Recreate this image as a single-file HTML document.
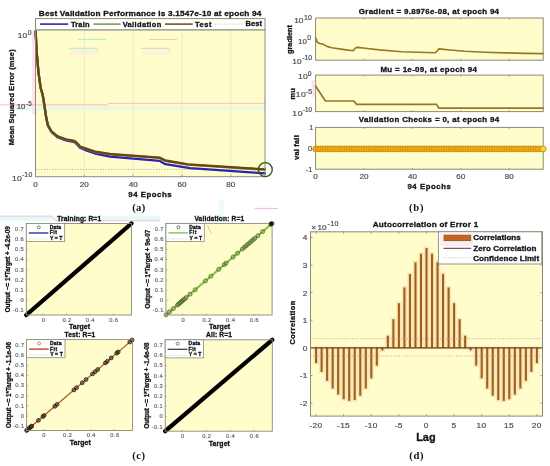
<!DOCTYPE html>
<html><head><meta charset="utf-8"><style>
html,body{margin:0;padding:0;background:#fff;overflow:hidden;}
svg{display:block;}
</style></head><body>
<svg width="550" height="466" viewBox="0 0 550 466">
<defs><filter id="bl" x="0" y="0" width="1" height="1" color-interpolation-filters="sRGB"><feGaussianBlur stdDeviation="0.35"/></filter></defs>
<g filter="url(#bl)">
<rect x="0" y="0" width="550" height="466" fill="#ffffff"/>
<rect x="35.50" y="29.80" width="229.50" height="146.90" fill="#FFFDCC" stroke="none" stroke-width="1" />
<line x1="84.33" y1="29.80" x2="84.33" y2="176.70" stroke="#E8E4BC" stroke-width="0.8" />
<line x1="133.16" y1="29.80" x2="133.16" y2="176.70" stroke="#E8E4BC" stroke-width="0.8" />
<line x1="181.99" y1="29.80" x2="181.99" y2="176.70" stroke="#E8E4BC" stroke-width="0.8" />
<line x1="230.82" y1="29.80" x2="230.82" y2="176.70" stroke="#E8E4BC" stroke-width="0.8" />
<rect x="12.00" y="105.60" width="253.00" height="5.00" fill="#DDF6E6" stroke="none" stroke-width="1" opacity="0.6"/>
<rect x="32.20" y="30.50" width="2.80" height="84.00" fill="#FCDCEC" stroke="none" stroke-width="1" opacity="0.8"/>
<polyline points="0.00,104.80 107.00,104.80 109.00,103.30 265.00,103.30" fill="none" stroke="#F4A0C0" stroke-width="0.9" stroke-linejoin="round" stroke-linecap="round" opacity="0.8"/>
<line x1="35.50" y1="169.40" x2="265.00" y2="169.40" stroke="#9C9C8C" stroke-width="0.8" stroke-dasharray="1.2,1.6"/>
<line x1="77.80" y1="39.40" x2="105.80" y2="39.40" stroke="#7FE6D6" stroke-width="0.9" opacity="0.75"/>
<line x1="68.90" y1="48.30" x2="97.70" y2="48.30" stroke="#7FE6D6" stroke-width="0.9" opacity="0.75"/>
<line x1="149.00" y1="39.40" x2="177.00" y2="39.40" stroke="#F4A0C4" stroke-width="0.9" opacity="0.75"/>
<line x1="140.90" y1="48.30" x2="169.40" y2="48.30" stroke="#F4A0C4" stroke-width="0.9" opacity="0.75"/>
<rect x="70.00" y="49.50" width="30.00" height="5.00" fill="#FBE8D8" stroke="none" stroke-width="1" opacity="0.6"/>
<rect x="143.00" y="49.50" width="28.00" height="5.00" fill="#E8F8D8" stroke="none" stroke-width="1" opacity="0.7"/>
<polyline points="35.60,31.40 36.80,53.70 38.50,72.60 40.70,88.00 42.70,95.00 44.40,105.30 46.20,117.60 47.90,125.60 51.30,131.80 57.30,137.20 65.90,140.40 74.50,142.20 77.00,144.30 80.00,147.80 84.80,149.80 95.10,153.50 110.00,156.60 159.50,160.80 165.30,164.20 190.00,168.10 265.00,173.30" fill="none" stroke="#3020B4" stroke-width="2.3" stroke-linejoin="round" stroke-linecap="round" />
<polyline points="35.60,31.70 36.80,54.00 38.50,72.90 40.70,88.30 42.70,95.30 44.40,105.60 46.20,117.60 47.90,125.30 51.30,131.30 57.30,136.50 65.90,139.60 74.50,141.30 77.00,143.30 80.00,146.80 84.80,148.50 95.10,152.00 110.00,154.30 159.50,157.90 165.30,160.80 188.00,164.70 265.00,169.70" fill="none" stroke="#6E9A3C" stroke-width="2.3" stroke-linejoin="round" stroke-linecap="round" />
<polyline points="35.60,31.40 36.80,53.70 38.50,72.60 40.70,88.00 42.70,95.00 44.40,105.30 46.20,117.30 47.90,125.00 51.30,131.00 57.30,136.20 65.90,139.30 74.50,141.00 77.00,143.00 80.00,146.50 84.80,148.20 95.10,151.70 110.00,154.00 159.50,157.60 165.30,160.50 188.00,164.40 265.00,169.40" fill="none" stroke="#6A4614" stroke-width="2.3" stroke-linejoin="round" stroke-linecap="round" />
<rect x="35.50" y="29.80" width="229.50" height="146.90" fill="none" stroke="#8A8A78" stroke-width="1" />
<line x1="35.50" y1="176.70" x2="35.50" y2="174.70" stroke="#8A8A78" stroke-width="0.8" />
<text transform="translate(33.23,186.70) scale(1.080,1)" x="0" y="0" font-size="7.5" fill="#4A4A4A" stroke="#4A4A4A" stroke-width="0.18" font-family="Liberation Sans, sans-serif">0</text>
<line x1="84.33" y1="176.70" x2="84.33" y2="174.70" stroke="#8A8A78" stroke-width="0.8" />
<text transform="translate(79.72,186.70) scale(1.080,1)" x="0" y="0" font-size="7.5" textLength="8.44" lengthAdjust="spacing" fill="#4A4A4A" stroke="#4A4A4A" stroke-width="0.18" font-family="Liberation Sans, sans-serif">20</text>
<line x1="133.16" y1="176.70" x2="133.16" y2="174.70" stroke="#8A8A78" stroke-width="0.8" />
<text transform="translate(128.67,186.70) scale(1.080,1)" x="0" y="0" font-size="7.5" textLength="8.44" lengthAdjust="spacing" fill="#4A4A4A" stroke="#4A4A4A" stroke-width="0.18" font-family="Liberation Sans, sans-serif">40</text>
<line x1="181.99" y1="176.70" x2="181.99" y2="174.70" stroke="#8A8A78" stroke-width="0.8" />
<text transform="translate(177.38,186.70) scale(1.080,1)" x="0" y="0" font-size="7.5" textLength="8.44" lengthAdjust="spacing" fill="#4A4A4A" stroke="#4A4A4A" stroke-width="0.18" font-family="Liberation Sans, sans-serif">60</text>
<line x1="230.82" y1="176.70" x2="230.82" y2="174.70" stroke="#8A8A78" stroke-width="0.8" />
<text transform="translate(226.23,186.70) scale(1.080,1)" x="0" y="0" font-size="7.5" textLength="8.44" lengthAdjust="spacing" fill="#4A4A4A" stroke="#4A4A4A" stroke-width="0.18" font-family="Liberation Sans, sans-serif">80</text>
<circle cx="265.3" cy="169.6" r="7" fill="none" stroke="#2F5A1E" stroke-width="1.4"/>
<text transform="translate(17.87,37.80) scale(1.063,1)" x="0" y="0" font-size="7.9" textLength="8.79" lengthAdjust="spacing" fill="#4A4A4A" stroke="#4A4A4A" stroke-width="0.18" font-family="Liberation Sans, sans-serif">10</text>
<text transform="translate(27.72,34.50) scale(1.100,1)" x="0" y="0" font-size="6.3" fill="#4A4A4A" stroke="#4A4A4A" stroke-width="0.18" font-family="Liberation Sans, sans-serif">0</text>
<text transform="translate(16.81,109.00) scale(1.000,1)" x="0" y="0" font-size="7.9" textLength="8.49" lengthAdjust="spacing" fill="#4A4A4A" stroke="#4A4A4A" stroke-width="0.18" font-family="Liberation Sans, sans-serif">10</text>
<text transform="translate(26.11,105.50) scale(1.006,1)" x="0" y="0" font-size="6.3" textLength="5.60" lengthAdjust="spacing" fill="#4A4A4A" stroke="#4A4A4A" stroke-width="0.18" font-family="Liberation Sans, sans-serif">-5</text>
<text transform="translate(11.95,180.50) scale(1.100,1)" x="0" y="0" font-size="7.9" textLength="8.89" lengthAdjust="spacing" fill="#4A4A4A" stroke="#4A4A4A" stroke-width="0.18" font-family="Liberation Sans, sans-serif">10</text>
<text transform="translate(21.89,177.00) scale(1.100,1)" x="0" y="0" font-size="6.3" textLength="9.42" lengthAdjust="spacing" fill="#4A4A4A" stroke="#4A4A4A" stroke-width="0.18" font-family="Liberation Sans, sans-serif">-10</text>
<text transform="translate(14.30,145.19) rotate(-90)" x="0" y="0" font-size="7.5" font-weight="bold" textLength="95.83" lengthAdjust="spacing" fill="#141414" stroke="#141414" stroke-width="0.3" font-family="Liberation Sans, sans-serif">Mean Squared Error  (mse)</text>
<text transform="translate(128.33,196.70) scale(1.100,1)" x="0" y="0" font-size="7.1" font-weight="bold" textLength="39.27" lengthAdjust="spacing" fill="#141414" stroke="#141414" stroke-width="0.3" font-family="Liberation Sans, sans-serif">94 Epochs</text>
<text transform="translate(132.22,211.00) scale(1.000,1)" x="0" y="0" font-size="10.6" font-weight="bold" textLength="13.01" lengthAdjust="spacing" fill="#141414" font-family="Liberation Serif, serif">(a)</text>
<rect x="35.50" y="18.60" width="229.50" height="11.20" fill="#FFFFFF" stroke="#8A8A78" stroke-width="1" />
<line x1="40.00" y1="24.10" x2="68.20" y2="24.10" stroke="#3422B0" stroke-width="1.6" />
<line x1="93.40" y1="24.10" x2="120.60" y2="24.10" stroke="#7CA050" stroke-width="1.6" />
<line x1="165.00" y1="24.10" x2="192.70" y2="24.10" stroke="#7A5020" stroke-width="1.6" />
<line x1="214.90" y1="24.10" x2="242.70" y2="24.10" stroke="#B8B8B0" stroke-width="0.8" stroke-dasharray="1,1.4"/>
<text transform="translate(70.93,26.50) scale(1.100,1)" x="0" y="0" font-size="6.8" font-weight="bold" textLength="16.84" lengthAdjust="spacing" fill="#141414" stroke="#141414" stroke-width="0.3" font-family="Liberation Sans, sans-serif">Train</text>
<text transform="translate(122.66,26.50) scale(1.100,1)" x="0" y="0" font-size="6.8" font-weight="bold" textLength="35.10" lengthAdjust="spacing" fill="#141414" stroke="#141414" stroke-width="0.3" font-family="Liberation Sans, sans-serif">Validation</text>
<text transform="translate(194.93,26.50) scale(1.100,1)" x="0" y="0" font-size="6.8" font-weight="bold" textLength="14.97" lengthAdjust="spacing" fill="#141414" stroke="#141414" stroke-width="0.3" font-family="Liberation Sans, sans-serif">Test</text>
<text transform="translate(245.51,26.40) scale(1.100,1)" x="0" y="0" font-size="6.8" font-weight="bold" textLength="14.89" lengthAdjust="spacing" fill="#141414" stroke="#141414" stroke-width="0.3" font-family="Liberation Sans, sans-serif">Best</text>
<text transform="translate(38.76,15.70) scale(1.100,1)" x="0" y="0" font-size="7.5" font-weight="bold" textLength="202.34" lengthAdjust="spacing" fill="#141414" stroke="#141414" stroke-width="0.3" font-family="Liberation Sans, sans-serif">Best Validation Performance is 3.1547e-10 at epoch 94</text>
<rect x="315.60" y="18.00" width="227.60" height="42.20" fill="#FFFDCC" stroke="#8A8A78" stroke-width="1" />
<polyline points="315.60,37.90 316.50,39.50 317.00,42.30 320.00,43.60 322.00,43.70 327.50,46.60 331.80,47.70 342.70,49.40 353.10,50.80 355.80,47.70 358.00,47.40 365.00,48.20 379.50,49.90 401.40,51.70 435.50,52.80 438.90,48.90 450.00,50.00 465.00,51.20 485.00,52.20 505.00,52.90 525.00,53.40 543.00,53.60" fill="none" stroke="#987622" stroke-width="1.6" stroke-linejoin="round" stroke-linecap="round" />
<line x1="364.03" y1="60.20" x2="364.03" y2="58.70" stroke="#8A8A78" stroke-width="0.8" />
<line x1="364.03" y1="18.00" x2="364.03" y2="19.50" stroke="#8A8A78" stroke-width="0.8" />
<line x1="412.45" y1="60.20" x2="412.45" y2="58.70" stroke="#8A8A78" stroke-width="0.8" />
<line x1="412.45" y1="18.00" x2="412.45" y2="19.50" stroke="#8A8A78" stroke-width="0.8" />
<line x1="460.88" y1="60.20" x2="460.88" y2="58.70" stroke="#8A8A78" stroke-width="0.8" />
<line x1="460.88" y1="18.00" x2="460.88" y2="19.50" stroke="#8A8A78" stroke-width="0.8" />
<line x1="509.30" y1="60.20" x2="509.30" y2="58.70" stroke="#8A8A78" stroke-width="0.8" />
<line x1="509.30" y1="18.00" x2="509.30" y2="19.50" stroke="#8A8A78" stroke-width="0.8" />
<text transform="translate(358.78,14.40) scale(1.100,1)" x="0" y="0" font-size="7.2" font-weight="bold" textLength="127.50" lengthAdjust="spacing" fill="#141414" stroke="#141414" stroke-width="0.3" font-family="Liberation Sans, sans-serif">Gradient = 9.8976e-08, at epoch 94</text>
<text transform="translate(294.17,22.90) scale(1.063,1)" x="0" y="0" font-size="7.9" textLength="8.79" lengthAdjust="spacing" fill="#4A4A4A" stroke="#4A4A4A" stroke-width="0.18" font-family="Liberation Sans, sans-serif">10</text>
<text transform="translate(303.88,19.60) scale(1.100,1)" x="0" y="0" font-size="6.3" textLength="7.16" lengthAdjust="spacing" fill="#4A4A4A" stroke="#4A4A4A" stroke-width="0.18" font-family="Liberation Sans, sans-serif">10</text>
<text transform="translate(298.00,43.70) scale(1.013,1)" x="0" y="0" font-size="7.9" textLength="8.79" lengthAdjust="spacing" fill="#4A4A4A" stroke="#4A4A4A" stroke-width="0.18" font-family="Liberation Sans, sans-serif">10</text>
<text transform="translate(307.22,40.20) scale(1.100,1)" x="0" y="0" font-size="6.3" fill="#4A4A4A" stroke="#4A4A4A" stroke-width="0.18" font-family="Liberation Sans, sans-serif">0</text>
<text transform="translate(292.28,64.00) scale(1.051,1)" x="0" y="0" font-size="7.9" textLength="8.79" lengthAdjust="spacing" fill="#4A4A4A" stroke="#4A4A4A" stroke-width="0.18" font-family="Liberation Sans, sans-serif">10</text>
<text transform="translate(302.19,60.40) scale(1.093,1)" x="0" y="0" font-size="6.3" textLength="9.11" lengthAdjust="spacing" fill="#4A4A4A" stroke="#4A4A4A" stroke-width="0.18" font-family="Liberation Sans, sans-serif">-10</text>
<text transform="translate(292.40,53.99) rotate(-90)" x="0" y="0" font-size="7.2" font-weight="bold" textLength="28.99" lengthAdjust="spacing" fill="#141414" stroke="#141414" stroke-width="0.3" font-family="Liberation Sans, sans-serif">gradient</text>
<rect x="315.60" y="75.10" width="227.60" height="36.50" fill="#FFFDCC" stroke="#8A8A78" stroke-width="1" />
<rect x="311.60" y="80.00" width="3.60" height="17.00" fill="#FBDDEE" stroke="none" stroke-width="1" opacity="0.8"/>
<polyline points="315.60,86.00 325.40,101.00 353.80,101.00 356.60,104.40 436.60,104.40 439.00,108.20 543.00,108.20" fill="none" stroke="#987622" stroke-width="1.7" stroke-linejoin="round" stroke-linecap="round" />
<line x1="364.03" y1="111.60" x2="364.03" y2="110.10" stroke="#8A8A78" stroke-width="0.8" />
<line x1="364.03" y1="75.10" x2="364.03" y2="76.60" stroke="#8A8A78" stroke-width="0.8" />
<line x1="412.45" y1="111.60" x2="412.45" y2="110.10" stroke="#8A8A78" stroke-width="0.8" />
<line x1="412.45" y1="75.10" x2="412.45" y2="76.60" stroke="#8A8A78" stroke-width="0.8" />
<line x1="460.88" y1="111.60" x2="460.88" y2="110.10" stroke="#8A8A78" stroke-width="0.8" />
<line x1="460.88" y1="75.10" x2="460.88" y2="76.60" stroke="#8A8A78" stroke-width="0.8" />
<line x1="509.30" y1="111.60" x2="509.30" y2="110.10" stroke="#8A8A78" stroke-width="0.8" />
<line x1="509.30" y1="75.10" x2="509.30" y2="76.60" stroke="#8A8A78" stroke-width="0.8" />
<text transform="translate(380.39,71.60) scale(1.100,1)" x="0" y="0" font-size="7.2" font-weight="bold" textLength="87.68" lengthAdjust="spacing" fill="#141414" stroke="#141414" stroke-width="0.3" font-family="Liberation Sans, sans-serif">Mu = 1e-09, at epoch 94</text>
<text transform="translate(298.05,79.10) scale(1.100,1)" x="0" y="0" font-size="7.9" textLength="8.98" lengthAdjust="spacing" fill="#4A4A4A" stroke="#4A4A4A" stroke-width="0.18" font-family="Liberation Sans, sans-serif">10</text>
<text transform="translate(307.83,75.90) scale(1.058,1)" x="0" y="0" font-size="6.3" fill="#4A4A4A" stroke="#4A4A4A" stroke-width="0.18" font-family="Liberation Sans, sans-serif">0</text>
<text transform="translate(295.65,97.40) scale(1.100,1)" x="0" y="0" font-size="7.9" textLength="9.16" lengthAdjust="spacing" fill="#4A4A4A" stroke="#4A4A4A" stroke-width="0.18" font-family="Liberation Sans, sans-serif">10</text>
<text transform="translate(305.69,94.20) scale(1.100,1)" x="0" y="0" font-size="6.3" textLength="5.89" lengthAdjust="spacing" fill="#4A4A4A" stroke="#4A4A4A" stroke-width="0.18" font-family="Liberation Sans, sans-serif">-5</text>
<text transform="translate(292.35,115.60) scale(1.100,1)" x="0" y="0" font-size="7.9" textLength="9.25" lengthAdjust="spacing" fill="#4A4A4A" stroke="#4A4A4A" stroke-width="0.18" font-family="Liberation Sans, sans-serif">10</text>
<text transform="translate(303.02,112.40) scale(1.000,1)" x="0" y="0" font-size="6.3" textLength="9.11" lengthAdjust="spacing" fill="#4A4A4A" stroke="#4A4A4A" stroke-width="0.18" font-family="Liberation Sans, sans-serif">-10</text>
<text transform="translate(295.00,99.48) rotate(-90)" x="0" y="0" font-size="7.4" font-weight="bold" textLength="11.26" lengthAdjust="spacing" fill="#141414" stroke="#141414" stroke-width="0.3" font-family="Liberation Sans, sans-serif">mu</text>
<rect x="315.60" y="127.40" width="227.60" height="41.80" fill="#FFFDCC" stroke="#8A8A78" stroke-width="1" />
<line x1="364.03" y1="169.20" x2="364.03" y2="167.70" stroke="#8A8A78" stroke-width="0.8" />
<line x1="364.03" y1="127.40" x2="364.03" y2="128.90" stroke="#8A8A78" stroke-width="0.8" />
<line x1="412.45" y1="169.20" x2="412.45" y2="167.70" stroke="#8A8A78" stroke-width="0.8" />
<line x1="412.45" y1="127.40" x2="412.45" y2="128.90" stroke="#8A8A78" stroke-width="0.8" />
<line x1="460.88" y1="169.20" x2="460.88" y2="167.70" stroke="#8A8A78" stroke-width="0.8" />
<line x1="460.88" y1="127.40" x2="460.88" y2="128.90" stroke="#8A8A78" stroke-width="0.8" />
<line x1="509.30" y1="169.20" x2="509.30" y2="167.70" stroke="#8A8A78" stroke-width="0.8" />
<line x1="509.30" y1="127.40" x2="509.30" y2="128.90" stroke="#8A8A78" stroke-width="0.8" />
<circle cx="315.60" cy="148.9" r="2.9" fill="#F0B41C" stroke="#CC840E" stroke-width="0.8"/>
<circle cx="318.02" cy="148.9" r="2.9" fill="#F0B41C" stroke="#CC840E" stroke-width="0.8"/>
<circle cx="320.44" cy="148.9" r="2.9" fill="#F0B41C" stroke="#CC840E" stroke-width="0.8"/>
<circle cx="322.86" cy="148.9" r="2.9" fill="#F0B41C" stroke="#CC840E" stroke-width="0.8"/>
<circle cx="325.29" cy="148.9" r="2.9" fill="#F0B41C" stroke="#CC840E" stroke-width="0.8"/>
<circle cx="327.71" cy="148.9" r="2.9" fill="#F0B41C" stroke="#CC840E" stroke-width="0.8"/>
<circle cx="330.13" cy="148.9" r="2.9" fill="#F0B41C" stroke="#CC840E" stroke-width="0.8"/>
<circle cx="332.55" cy="148.9" r="2.9" fill="#F0B41C" stroke="#CC840E" stroke-width="0.8"/>
<circle cx="334.97" cy="148.9" r="2.9" fill="#F0B41C" stroke="#CC840E" stroke-width="0.8"/>
<circle cx="337.39" cy="148.9" r="2.9" fill="#F0B41C" stroke="#CC840E" stroke-width="0.8"/>
<circle cx="339.81" cy="148.9" r="2.9" fill="#F0B41C" stroke="#CC840E" stroke-width="0.8"/>
<circle cx="342.23" cy="148.9" r="2.9" fill="#F0B41C" stroke="#CC840E" stroke-width="0.8"/>
<circle cx="344.66" cy="148.9" r="2.9" fill="#F0B41C" stroke="#CC840E" stroke-width="0.8"/>
<circle cx="347.08" cy="148.9" r="2.9" fill="#F0B41C" stroke="#CC840E" stroke-width="0.8"/>
<circle cx="349.50" cy="148.9" r="2.9" fill="#F0B41C" stroke="#CC840E" stroke-width="0.8"/>
<circle cx="351.92" cy="148.9" r="2.9" fill="#F0B41C" stroke="#CC840E" stroke-width="0.8"/>
<circle cx="354.34" cy="148.9" r="2.9" fill="#F0B41C" stroke="#CC840E" stroke-width="0.8"/>
<circle cx="356.76" cy="148.9" r="2.9" fill="#F0B41C" stroke="#CC840E" stroke-width="0.8"/>
<circle cx="359.18" cy="148.9" r="2.9" fill="#F0B41C" stroke="#CC840E" stroke-width="0.8"/>
<circle cx="361.60" cy="148.9" r="2.9" fill="#F0B41C" stroke="#CC840E" stroke-width="0.8"/>
<circle cx="364.03" cy="148.9" r="2.9" fill="#F0B41C" stroke="#CC840E" stroke-width="0.8"/>
<circle cx="366.45" cy="148.9" r="2.9" fill="#F0B41C" stroke="#CC840E" stroke-width="0.8"/>
<circle cx="368.87" cy="148.9" r="2.9" fill="#F0B41C" stroke="#CC840E" stroke-width="0.8"/>
<circle cx="371.29" cy="148.9" r="2.9" fill="#F0B41C" stroke="#CC840E" stroke-width="0.8"/>
<circle cx="373.71" cy="148.9" r="2.9" fill="#F0B41C" stroke="#CC840E" stroke-width="0.8"/>
<circle cx="376.13" cy="148.9" r="2.9" fill="#F0B41C" stroke="#CC840E" stroke-width="0.8"/>
<circle cx="378.55" cy="148.9" r="2.9" fill="#F0B41C" stroke="#CC840E" stroke-width="0.8"/>
<circle cx="380.97" cy="148.9" r="2.9" fill="#F0B41C" stroke="#CC840E" stroke-width="0.8"/>
<circle cx="383.40" cy="148.9" r="2.9" fill="#F0B41C" stroke="#CC840E" stroke-width="0.8"/>
<circle cx="385.82" cy="148.9" r="2.9" fill="#F0B41C" stroke="#CC840E" stroke-width="0.8"/>
<circle cx="388.24" cy="148.9" r="2.9" fill="#F0B41C" stroke="#CC840E" stroke-width="0.8"/>
<circle cx="390.66" cy="148.9" r="2.9" fill="#F0B41C" stroke="#CC840E" stroke-width="0.8"/>
<circle cx="393.08" cy="148.9" r="2.9" fill="#F0B41C" stroke="#CC840E" stroke-width="0.8"/>
<circle cx="395.50" cy="148.9" r="2.9" fill="#F0B41C" stroke="#CC840E" stroke-width="0.8"/>
<circle cx="397.92" cy="148.9" r="2.9" fill="#F0B41C" stroke="#CC840E" stroke-width="0.8"/>
<circle cx="400.34" cy="148.9" r="2.9" fill="#F0B41C" stroke="#CC840E" stroke-width="0.8"/>
<circle cx="402.77" cy="148.9" r="2.9" fill="#F0B41C" stroke="#CC840E" stroke-width="0.8"/>
<circle cx="405.19" cy="148.9" r="2.9" fill="#F0B41C" stroke="#CC840E" stroke-width="0.8"/>
<circle cx="407.61" cy="148.9" r="2.9" fill="#F0B41C" stroke="#CC840E" stroke-width="0.8"/>
<circle cx="410.03" cy="148.9" r="2.9" fill="#F0B41C" stroke="#CC840E" stroke-width="0.8"/>
<circle cx="412.45" cy="148.9" r="2.9" fill="#F0B41C" stroke="#CC840E" stroke-width="0.8"/>
<circle cx="414.87" cy="148.9" r="2.9" fill="#F0B41C" stroke="#CC840E" stroke-width="0.8"/>
<circle cx="417.29" cy="148.9" r="2.9" fill="#F0B41C" stroke="#CC840E" stroke-width="0.8"/>
<circle cx="419.71" cy="148.9" r="2.9" fill="#F0B41C" stroke="#CC840E" stroke-width="0.8"/>
<circle cx="422.14" cy="148.9" r="2.9" fill="#F0B41C" stroke="#CC840E" stroke-width="0.8"/>
<circle cx="424.56" cy="148.9" r="2.9" fill="#F0B41C" stroke="#CC840E" stroke-width="0.8"/>
<circle cx="426.98" cy="148.9" r="2.9" fill="#F0B41C" stroke="#CC840E" stroke-width="0.8"/>
<circle cx="429.40" cy="148.9" r="2.9" fill="#F0B41C" stroke="#CC840E" stroke-width="0.8"/>
<circle cx="431.82" cy="148.9" r="2.9" fill="#F0B41C" stroke="#CC840E" stroke-width="0.8"/>
<circle cx="434.24" cy="148.9" r="2.9" fill="#F0B41C" stroke="#CC840E" stroke-width="0.8"/>
<circle cx="436.66" cy="148.9" r="2.9" fill="#F0B41C" stroke="#CC840E" stroke-width="0.8"/>
<circle cx="439.09" cy="148.9" r="2.9" fill="#F0B41C" stroke="#CC840E" stroke-width="0.8"/>
<circle cx="441.51" cy="148.9" r="2.9" fill="#F0B41C" stroke="#CC840E" stroke-width="0.8"/>
<circle cx="443.93" cy="148.9" r="2.9" fill="#F0B41C" stroke="#CC840E" stroke-width="0.8"/>
<circle cx="446.35" cy="148.9" r="2.9" fill="#F0B41C" stroke="#CC840E" stroke-width="0.8"/>
<circle cx="448.77" cy="148.9" r="2.9" fill="#F0B41C" stroke="#CC840E" stroke-width="0.8"/>
<circle cx="451.19" cy="148.9" r="2.9" fill="#F0B41C" stroke="#CC840E" stroke-width="0.8"/>
<circle cx="453.61" cy="148.9" r="2.9" fill="#F0B41C" stroke="#CC840E" stroke-width="0.8"/>
<circle cx="456.03" cy="148.9" r="2.9" fill="#F0B41C" stroke="#CC840E" stroke-width="0.8"/>
<circle cx="458.46" cy="148.9" r="2.9" fill="#F0B41C" stroke="#CC840E" stroke-width="0.8"/>
<circle cx="460.88" cy="148.9" r="2.9" fill="#F0B41C" stroke="#CC840E" stroke-width="0.8"/>
<circle cx="463.30" cy="148.9" r="2.9" fill="#F0B41C" stroke="#CC840E" stroke-width="0.8"/>
<circle cx="465.72" cy="148.9" r="2.9" fill="#F0B41C" stroke="#CC840E" stroke-width="0.8"/>
<circle cx="468.14" cy="148.9" r="2.9" fill="#F0B41C" stroke="#CC840E" stroke-width="0.8"/>
<circle cx="470.56" cy="148.9" r="2.9" fill="#F0B41C" stroke="#CC840E" stroke-width="0.8"/>
<circle cx="472.98" cy="148.9" r="2.9" fill="#F0B41C" stroke="#CC840E" stroke-width="0.8"/>
<circle cx="475.40" cy="148.9" r="2.9" fill="#F0B41C" stroke="#CC840E" stroke-width="0.8"/>
<circle cx="477.83" cy="148.9" r="2.9" fill="#F0B41C" stroke="#CC840E" stroke-width="0.8"/>
<circle cx="480.25" cy="148.9" r="2.9" fill="#F0B41C" stroke="#CC840E" stroke-width="0.8"/>
<circle cx="482.67" cy="148.9" r="2.9" fill="#F0B41C" stroke="#CC840E" stroke-width="0.8"/>
<circle cx="485.09" cy="148.9" r="2.9" fill="#F0B41C" stroke="#CC840E" stroke-width="0.8"/>
<circle cx="487.51" cy="148.9" r="2.9" fill="#F0B41C" stroke="#CC840E" stroke-width="0.8"/>
<circle cx="489.93" cy="148.9" r="2.9" fill="#F0B41C" stroke="#CC840E" stroke-width="0.8"/>
<circle cx="492.35" cy="148.9" r="2.9" fill="#F0B41C" stroke="#CC840E" stroke-width="0.8"/>
<circle cx="494.77" cy="148.9" r="2.9" fill="#F0B41C" stroke="#CC840E" stroke-width="0.8"/>
<circle cx="497.20" cy="148.9" r="2.9" fill="#F0B41C" stroke="#CC840E" stroke-width="0.8"/>
<circle cx="499.62" cy="148.9" r="2.9" fill="#F0B41C" stroke="#CC840E" stroke-width="0.8"/>
<circle cx="502.04" cy="148.9" r="2.9" fill="#F0B41C" stroke="#CC840E" stroke-width="0.8"/>
<circle cx="504.46" cy="148.9" r="2.9" fill="#F0B41C" stroke="#CC840E" stroke-width="0.8"/>
<circle cx="506.88" cy="148.9" r="2.9" fill="#F0B41C" stroke="#CC840E" stroke-width="0.8"/>
<circle cx="509.30" cy="148.9" r="2.9" fill="#F0B41C" stroke="#CC840E" stroke-width="0.8"/>
<circle cx="511.72" cy="148.9" r="2.9" fill="#F0B41C" stroke="#CC840E" stroke-width="0.8"/>
<circle cx="514.14" cy="148.9" r="2.9" fill="#F0B41C" stroke="#CC840E" stroke-width="0.8"/>
<circle cx="516.57" cy="148.9" r="2.9" fill="#F0B41C" stroke="#CC840E" stroke-width="0.8"/>
<circle cx="518.99" cy="148.9" r="2.9" fill="#F0B41C" stroke="#CC840E" stroke-width="0.8"/>
<circle cx="521.41" cy="148.9" r="2.9" fill="#F0B41C" stroke="#CC840E" stroke-width="0.8"/>
<circle cx="523.83" cy="148.9" r="2.9" fill="#F0B41C" stroke="#CC840E" stroke-width="0.8"/>
<circle cx="526.25" cy="148.9" r="2.9" fill="#F0B41C" stroke="#CC840E" stroke-width="0.8"/>
<circle cx="528.67" cy="148.9" r="2.9" fill="#F0B41C" stroke="#CC840E" stroke-width="0.8"/>
<circle cx="531.09" cy="148.9" r="2.9" fill="#F0B41C" stroke="#CC840E" stroke-width="0.8"/>
<circle cx="533.51" cy="148.9" r="2.9" fill="#F0B41C" stroke="#CC840E" stroke-width="0.8"/>
<circle cx="535.94" cy="148.9" r="2.9" fill="#F0B41C" stroke="#CC840E" stroke-width="0.8"/>
<circle cx="538.36" cy="148.9" r="2.9" fill="#F0B41C" stroke="#CC840E" stroke-width="0.8"/>
<circle cx="540.78" cy="148.9" r="2.9" fill="#F0B41C" stroke="#CC840E" stroke-width="0.8"/>
<circle cx="543.20" cy="148.9" r="2.9" fill="#E8E030" stroke="#CC840E" stroke-width="0.8"/>
<text transform="translate(358.86,121.90) scale(1.100,1)" x="0" y="0" font-size="7.2" font-weight="bold" textLength="127.54" lengthAdjust="spacing" fill="#141414" stroke="#141414" stroke-width="0.3" font-family="Liberation Sans, sans-serif">Validation Checks = 0, at epoch 94</text>
<text transform="translate(309.28,129.80) scale(1.000,1)" x="0" y="0" font-size="7.0" fill="#4A4A4A" stroke="#4A4A4A" stroke-width="0.18" font-family="Liberation Sans, sans-serif">1</text>
<text transform="translate(307.99,150.80) scale(1.100,1)" x="0" y="0" font-size="7.0" fill="#4A4A4A" stroke="#4A4A4A" stroke-width="0.18" font-family="Liberation Sans, sans-serif">0</text>
<text transform="translate(305.66,171.90) scale(1.071,1)" x="0" y="0" font-size="7.0" textLength="6.22" lengthAdjust="spacing" fill="#4A4A4A" stroke="#4A4A4A" stroke-width="0.18" font-family="Liberation Sans, sans-serif">-1</text>
<text transform="translate(299.00,159.84) rotate(-90)" x="0" y="0" font-size="7.3" font-weight="bold" textLength="24.53" lengthAdjust="spacing" fill="#141414" stroke="#141414" stroke-width="0.3" font-family="Liberation Sans, sans-serif">val fail</text>
<text transform="translate(313.33,179.30) scale(1.080,1)" x="0" y="0" font-size="7.5" fill="#4A4A4A" stroke="#4A4A4A" stroke-width="0.18" font-family="Liberation Sans, sans-serif">0</text>
<text transform="translate(359.42,179.30) scale(1.080,1)" x="0" y="0" font-size="7.5" textLength="8.44" lengthAdjust="spacing" fill="#4A4A4A" stroke="#4A4A4A" stroke-width="0.18" font-family="Liberation Sans, sans-serif">20</text>
<text transform="translate(407.96,179.30) scale(1.080,1)" x="0" y="0" font-size="7.5" textLength="8.44" lengthAdjust="spacing" fill="#4A4A4A" stroke="#4A4A4A" stroke-width="0.18" font-family="Liberation Sans, sans-serif">40</text>
<text transform="translate(456.27,179.30) scale(1.080,1)" x="0" y="0" font-size="7.5" textLength="8.44" lengthAdjust="spacing" fill="#4A4A4A" stroke="#4A4A4A" stroke-width="0.18" font-family="Liberation Sans, sans-serif">60</text>
<text transform="translate(504.71,179.30) scale(1.080,1)" x="0" y="0" font-size="7.5" textLength="8.44" lengthAdjust="spacing" fill="#4A4A4A" stroke="#4A4A4A" stroke-width="0.18" font-family="Liberation Sans, sans-serif">80</text>
<text transform="translate(407.43,188.90) scale(1.100,1)" x="0" y="0" font-size="7.0" font-weight="bold" textLength="39.45" lengthAdjust="spacing" fill="#141414" stroke="#141414" stroke-width="0.3" font-family="Liberation Sans, sans-serif">94 Epochs</text>
<text transform="translate(409.02,210.90) scale(1.000,1)" x="0" y="0" font-size="10.6" font-weight="bold" textLength="14.62" lengthAdjust="spacing" fill="#141414" font-family="Liberation Serif, serif">(b)</text>
<rect x="0.00" y="216.20" width="160.00" height="4.40" fill="#DDF7F7" stroke="none" stroke-width="1" opacity="0.8"/>
<line x1="255.00" y1="208.40" x2="278.00" y2="208.40" stroke="#F6A8D0" stroke-width="0.9" />
<rect x="219.00" y="200.00" width="5.00" height="22.00" fill="#D8F6F6" stroke="none" stroke-width="1" opacity="0.45"/>
<polyline points="0.00,216.10 51.00,216.10 55.30,220.80 160.00,220.80" fill="none" stroke="#F6A8D0" stroke-width="0.9" stroke-linejoin="round" stroke-linecap="round" opacity="0.8"/>
<rect x="26.30" y="223.50" width="105.10" height="91.50" fill="#FFFDCC" stroke="none" stroke-width="1" />
<polyline points="26.30,315.00 131.40,223.50" fill="none" stroke="#000" stroke-width="4.3" stroke-linejoin="round" stroke-linecap="round" />
<rect x="26.30" y="223.50" width="105.10" height="91.50" fill="none" stroke="#8A8A78" stroke-width="0.9" />
<text transform="translate(12.78,312.41) scale(1.080,1)" x="0" y="0" font-size="5.3" textLength="10.18" lengthAdjust="spacing" fill="#6A6A6A" stroke="#6A6A6A" stroke-width="0.18" font-family="Liberation Sans, sans-serif">-0.1</text>
<line x1="26.30" y1="310.61" x2="27.80" y2="310.61" stroke="#8A8A78" stroke-width="0.6" />
<text transform="translate(20.52,302.21) scale(1.080,1)" x="0" y="0" font-size="5.3" fill="#6A6A6A" stroke="#6A6A6A" stroke-width="0.18" font-family="Liberation Sans, sans-serif">0</text>
<line x1="26.30" y1="300.41" x2="27.80" y2="300.41" stroke="#8A8A78" stroke-width="0.6" />
<text transform="translate(15.05,292.01) scale(1.080,1)" x="0" y="0" font-size="5.3" textLength="8.07" lengthAdjust="spacing" fill="#6A6A6A" stroke="#6A6A6A" stroke-width="0.18" font-family="Liberation Sans, sans-serif">0.1</text>
<line x1="26.30" y1="290.21" x2="27.80" y2="290.21" stroke="#8A8A78" stroke-width="0.6" />
<text transform="translate(15.07,281.81) scale(1.080,1)" x="0" y="0" font-size="5.3" textLength="8.07" lengthAdjust="spacing" fill="#6A6A6A" stroke="#6A6A6A" stroke-width="0.18" font-family="Liberation Sans, sans-serif">0.2</text>
<line x1="26.30" y1="280.01" x2="27.80" y2="280.01" stroke="#8A8A78" stroke-width="0.6" />
<text transform="translate(15.02,271.61) scale(1.080,1)" x="0" y="0" font-size="5.3" textLength="8.07" lengthAdjust="spacing" fill="#6A6A6A" stroke="#6A6A6A" stroke-width="0.18" font-family="Liberation Sans, sans-serif">0.3</text>
<line x1="26.30" y1="269.81" x2="27.80" y2="269.81" stroke="#8A8A78" stroke-width="0.6" />
<text transform="translate(14.96,261.41) scale(1.080,1)" x="0" y="0" font-size="5.3" textLength="8.07" lengthAdjust="spacing" fill="#6A6A6A" stroke="#6A6A6A" stroke-width="0.18" font-family="Liberation Sans, sans-serif">0.4</text>
<line x1="26.30" y1="259.61" x2="27.80" y2="259.61" stroke="#8A8A78" stroke-width="0.6" />
<text transform="translate(15.02,251.21) scale(1.080,1)" x="0" y="0" font-size="5.3" textLength="8.07" lengthAdjust="spacing" fill="#6A6A6A" stroke="#6A6A6A" stroke-width="0.18" font-family="Liberation Sans, sans-serif">0.5</text>
<line x1="26.30" y1="249.41" x2="27.80" y2="249.41" stroke="#8A8A78" stroke-width="0.6" />
<text transform="translate(15.02,241.01) scale(1.080,1)" x="0" y="0" font-size="5.3" textLength="8.07" lengthAdjust="spacing" fill="#6A6A6A" stroke="#6A6A6A" stroke-width="0.18" font-family="Liberation Sans, sans-serif">0.6</text>
<line x1="26.30" y1="239.21" x2="27.80" y2="239.21" stroke="#8A8A78" stroke-width="0.6" />
<text transform="translate(15.07,230.81) scale(1.080,1)" x="0" y="0" font-size="5.3" textLength="8.07" lengthAdjust="spacing" fill="#6A6A6A" stroke="#6A6A6A" stroke-width="0.18" font-family="Liberation Sans, sans-serif">0.7</text>
<line x1="26.30" y1="229.01" x2="27.80" y2="229.01" stroke="#8A8A78" stroke-width="0.6" />
<text transform="translate(41.75,321.60) scale(1.080,1)" x="0" y="0" font-size="5.3" fill="#6A6A6A" stroke="#6A6A6A" stroke-width="0.18" font-family="Liberation Sans, sans-serif">0</text>
<line x1="43.06" y1="315.00" x2="43.06" y2="313.50" stroke="#8A8A78" stroke-width="0.6" />
<text transform="translate(62.46,321.60) scale(1.080,1)" x="0" y="0" font-size="5.3" textLength="8.07" lengthAdjust="spacing" fill="#6A6A6A" stroke="#6A6A6A" stroke-width="0.18" font-family="Liberation Sans, sans-serif">0.2</text>
<line x1="66.49" y1="315.00" x2="66.49" y2="313.50" stroke="#8A8A78" stroke-width="0.6" />
<text transform="translate(85.84,321.60) scale(1.080,1)" x="0" y="0" font-size="5.3" textLength="8.07" lengthAdjust="spacing" fill="#6A6A6A" stroke="#6A6A6A" stroke-width="0.18" font-family="Liberation Sans, sans-serif">0.4</text>
<line x1="89.92" y1="315.00" x2="89.92" y2="313.50" stroke="#8A8A78" stroke-width="0.6" />
<text transform="translate(109.30,321.60) scale(1.080,1)" x="0" y="0" font-size="5.3" textLength="8.07" lengthAdjust="spacing" fill="#6A6A6A" stroke="#6A6A6A" stroke-width="0.18" font-family="Liberation Sans, sans-serif">0.6</text>
<line x1="113.36" y1="315.00" x2="113.36" y2="313.50" stroke="#8A8A78" stroke-width="0.6" />
<text transform="translate(68.93,329.30) scale(1.100,1)" x="0" y="0" font-size="6.3" font-weight="bold" textLength="19.14" lengthAdjust="spacing" fill="#141414" stroke="#141414" stroke-width="0.3" font-family="Liberation Sans, sans-serif">Target</text>
<text transform="translate(57.15,220.90) scale(1.000,1)" x="0" y="0" font-size="6.6" font-weight="bold" textLength="43.91" lengthAdjust="spacing" fill="#141414" stroke="#141414" stroke-width="0.3" font-family="Liberation Sans, sans-serif">Training: R=1</text>
<text transform="translate(10.20,312.29) rotate(-90)" x="0" y="0" font-size="6.3" font-weight="bold" textLength="86.06" lengthAdjust="spacing" fill="#141414" stroke="#141414" stroke-width="0.3" font-family="Liberation Sans, sans-serif">Output ~= 1*Target + -4.2e-09</text>
<rect x="26.30" y="223.50" width="38.40" height="18.10" fill="#FFFFFF" stroke="#8A8A78" stroke-width="0.8" />
<circle cx="38.80" cy="227.40" r="1.5" fill="none" stroke="#444" stroke-width="0.7"/>
<line x1="28.80" y1="233.00" x2="48.40" y2="233.00" stroke="#1E1EA0" stroke-width="1.3" />
<line x1="28.80" y1="239.00" x2="48.40" y2="239.00" stroke="#C8DCDC" stroke-width="0.9" stroke-dasharray="1,0.8"/>
<text transform="translate(49.67,228.90) scale(1.100,1)" x="0" y="0" font-size="4.6" font-weight="bold" textLength="10.45" lengthAdjust="spacing" fill="#141414" stroke="#141414" stroke-width="0.3" font-family="Liberation Sans, sans-serif">Data</text>
<text transform="translate(49.67,234.40) scale(1.100,1)" x="0" y="0" font-size="4.6" font-weight="bold" textLength="6.53" lengthAdjust="spacing" fill="#141414" stroke="#141414" stroke-width="0.3" font-family="Liberation Sans, sans-serif">Fit</text>
<text transform="translate(49.90,240.10) scale(1.100,1)" x="0" y="0" font-size="4.6" font-weight="bold" textLength="11.41" lengthAdjust="spacing" fill="#141414" stroke="#141414" stroke-width="0.3" font-family="Liberation Sans, sans-serif">Y = T</text>
<rect x="165.90" y="223.40" width="106.20" height="91.60" fill="#FFFDCC" stroke="none" stroke-width="1" />
<polyline points="165.90,315.00 272.10,223.40" fill="none" stroke="#7CC23C" stroke-width="2.0" stroke-linejoin="round" stroke-linecap="round" />
<circle cx="166.02" cy="314.90" r="2.0" fill="#8CB858" fill-opacity="0.35" stroke="#3A4A1C" stroke-width="0.65"/>
<circle cx="169.45" cy="311.94" r="2.0" fill="#8CB858" fill-opacity="0.35" stroke="#3A4A1C" stroke-width="0.65"/>
<circle cx="173.36" cy="308.57" r="2.0" fill="#8CB858" fill-opacity="0.35" stroke="#3A4A1C" stroke-width="0.65"/>
<circle cx="177.50" cy="304.99" r="2.0" fill="#8CB858" fill-opacity="0.35" stroke="#3A4A1C" stroke-width="0.65"/>
<circle cx="178.69" cy="303.97" r="2.0" fill="#8CB858" fill-opacity="0.35" stroke="#3A4A1C" stroke-width="0.65"/>
<circle cx="179.87" cy="302.95" r="2.0" fill="#8CB858" fill-opacity="0.35" stroke="#3A4A1C" stroke-width="0.65"/>
<circle cx="181.05" cy="301.93" r="2.0" fill="#8CB858" fill-opacity="0.35" stroke="#3A4A1C" stroke-width="0.65"/>
<circle cx="182.24" cy="300.91" r="2.0" fill="#8CB858" fill-opacity="0.35" stroke="#3A4A1C" stroke-width="0.65"/>
<circle cx="183.42" cy="299.89" r="2.0" fill="#8CB858" fill-opacity="0.35" stroke="#3A4A1C" stroke-width="0.65"/>
<circle cx="184.61" cy="298.87" r="2.0" fill="#8CB858" fill-opacity="0.35" stroke="#3A4A1C" stroke-width="0.65"/>
<circle cx="186.15" cy="297.54" r="2.0" fill="#8CB858" fill-opacity="0.35" stroke="#3A4A1C" stroke-width="0.65"/>
<circle cx="190.05" cy="294.17" r="2.0" fill="#8CB858" fill-opacity="0.35" stroke="#3A4A1C" stroke-width="0.65"/>
<circle cx="195.14" cy="289.78" r="2.0" fill="#8CB858" fill-opacity="0.35" stroke="#3A4A1C" stroke-width="0.65"/>
<circle cx="205.44" cy="280.89" r="2.0" fill="#8CB858" fill-opacity="0.35" stroke="#3A4A1C" stroke-width="0.65"/>
<circle cx="210.89" cy="276.20" r="2.0" fill="#8CB858" fill-opacity="0.35" stroke="#3A4A1C" stroke-width="0.65"/>
<circle cx="218.82" cy="269.35" r="2.0" fill="#8CB858" fill-opacity="0.35" stroke="#3A4A1C" stroke-width="0.65"/>
<circle cx="224.27" cy="264.66" r="2.0" fill="#8CB858" fill-opacity="0.35" stroke="#3A4A1C" stroke-width="0.65"/>
<circle cx="226.04" cy="263.12" r="2.0" fill="#8CB858" fill-opacity="0.35" stroke="#3A4A1C" stroke-width="0.65"/>
<circle cx="233.15" cy="257.00" r="2.0" fill="#8CB858" fill-opacity="0.35" stroke="#3A4A1C" stroke-width="0.65"/>
<circle cx="237.53" cy="253.22" r="2.0" fill="#8CB858" fill-opacity="0.35" stroke="#3A4A1C" stroke-width="0.65"/>
<circle cx="242.38" cy="249.03" r="2.0" fill="#8CB858" fill-opacity="0.35" stroke="#3A4A1C" stroke-width="0.65"/>
<circle cx="244.40" cy="247.30" r="2.0" fill="#8CB858" fill-opacity="0.35" stroke="#3A4A1C" stroke-width="0.65"/>
<circle cx="246.17" cy="245.76" r="2.0" fill="#8CB858" fill-opacity="0.35" stroke="#3A4A1C" stroke-width="0.65"/>
<circle cx="247.95" cy="244.23" r="2.0" fill="#8CB858" fill-opacity="0.35" stroke="#3A4A1C" stroke-width="0.65"/>
<circle cx="249.72" cy="242.70" r="2.0" fill="#8CB858" fill-opacity="0.35" stroke="#3A4A1C" stroke-width="0.65"/>
<circle cx="251.50" cy="241.17" r="2.0" fill="#8CB858" fill-opacity="0.35" stroke="#3A4A1C" stroke-width="0.65"/>
<circle cx="253.28" cy="239.64" r="2.0" fill="#8CB858" fill-opacity="0.35" stroke="#3A4A1C" stroke-width="0.65"/>
<circle cx="254.93" cy="238.21" r="2.0" fill="#8CB858" fill-opacity="0.35" stroke="#3A4A1C" stroke-width="0.65"/>
<circle cx="257.89" cy="235.65" r="2.0" fill="#8CB858" fill-opacity="0.35" stroke="#3A4A1C" stroke-width="0.65"/>
<circle cx="262.63" cy="231.57" r="2.0" fill="#8CB858" fill-opacity="0.35" stroke="#3A4A1C" stroke-width="0.65"/>
<circle cx="270.92" cy="224.42" r="2.0" fill="#8CB858" fill-opacity="0.35" stroke="#3A4A1C" stroke-width="0.65"/>
<circle cx="271.39" cy="224.01" r="2.0" fill="#8CB858" fill-opacity="0.35" stroke="#3A4A1C" stroke-width="0.65"/>
<circle cx="271.74" cy="223.71" r="2.0" fill="#8CB858" fill-opacity="0.35" stroke="#3A4A1C" stroke-width="0.65"/>
<circle cx="271.98" cy="223.50" r="2.0" fill="#8CB858" fill-opacity="0.35" stroke="#3A4A1C" stroke-width="0.65"/>
<rect x="165.90" y="223.40" width="106.20" height="91.60" fill="none" stroke="#8A8A78" stroke-width="0.9" />
<text transform="translate(152.38,312.41) scale(1.080,1)" x="0" y="0" font-size="5.3" textLength="10.18" lengthAdjust="spacing" fill="#6A6A6A" stroke="#6A6A6A" stroke-width="0.18" font-family="Liberation Sans, sans-serif">-0.1</text>
<line x1="165.90" y1="310.61" x2="167.40" y2="310.61" stroke="#8A8A78" stroke-width="0.6" />
<text transform="translate(160.12,302.20) scale(1.080,1)" x="0" y="0" font-size="5.3" fill="#6A6A6A" stroke="#6A6A6A" stroke-width="0.18" font-family="Liberation Sans, sans-serif">0</text>
<line x1="165.90" y1="300.40" x2="167.40" y2="300.40" stroke="#8A8A78" stroke-width="0.6" />
<text transform="translate(154.65,291.99) scale(1.080,1)" x="0" y="0" font-size="5.3" textLength="8.07" lengthAdjust="spacing" fill="#6A6A6A" stroke="#6A6A6A" stroke-width="0.18" font-family="Liberation Sans, sans-serif">0.1</text>
<line x1="165.90" y1="290.19" x2="167.40" y2="290.19" stroke="#8A8A78" stroke-width="0.6" />
<text transform="translate(154.67,281.77) scale(1.080,1)" x="0" y="0" font-size="5.3" textLength="8.07" lengthAdjust="spacing" fill="#6A6A6A" stroke="#6A6A6A" stroke-width="0.18" font-family="Liberation Sans, sans-serif">0.2</text>
<line x1="165.90" y1="279.97" x2="167.40" y2="279.97" stroke="#8A8A78" stroke-width="0.6" />
<text transform="translate(154.62,271.56) scale(1.080,1)" x="0" y="0" font-size="5.3" textLength="8.07" lengthAdjust="spacing" fill="#6A6A6A" stroke="#6A6A6A" stroke-width="0.18" font-family="Liberation Sans, sans-serif">0.3</text>
<line x1="165.90" y1="269.76" x2="167.40" y2="269.76" stroke="#8A8A78" stroke-width="0.6" />
<text transform="translate(154.56,261.35) scale(1.080,1)" x="0" y="0" font-size="5.3" textLength="8.07" lengthAdjust="spacing" fill="#6A6A6A" stroke="#6A6A6A" stroke-width="0.18" font-family="Liberation Sans, sans-serif">0.4</text>
<line x1="165.90" y1="259.55" x2="167.40" y2="259.55" stroke="#8A8A78" stroke-width="0.6" />
<text transform="translate(154.62,251.14) scale(1.080,1)" x="0" y="0" font-size="5.3" textLength="8.07" lengthAdjust="spacing" fill="#6A6A6A" stroke="#6A6A6A" stroke-width="0.18" font-family="Liberation Sans, sans-serif">0.5</text>
<line x1="165.90" y1="249.34" x2="167.40" y2="249.34" stroke="#8A8A78" stroke-width="0.6" />
<text transform="translate(154.62,240.93) scale(1.080,1)" x="0" y="0" font-size="5.3" textLength="8.07" lengthAdjust="spacing" fill="#6A6A6A" stroke="#6A6A6A" stroke-width="0.18" font-family="Liberation Sans, sans-serif">0.6</text>
<line x1="165.90" y1="239.13" x2="167.40" y2="239.13" stroke="#8A8A78" stroke-width="0.6" />
<text transform="translate(154.67,230.71) scale(1.080,1)" x="0" y="0" font-size="5.3" textLength="8.07" lengthAdjust="spacing" fill="#6A6A6A" stroke="#6A6A6A" stroke-width="0.18" font-family="Liberation Sans, sans-serif">0.7</text>
<line x1="165.90" y1="228.91" x2="167.40" y2="228.91" stroke="#8A8A78" stroke-width="0.6" />
<text transform="translate(181.53,321.60) scale(1.080,1)" x="0" y="0" font-size="5.3" fill="#6A6A6A" stroke="#6A6A6A" stroke-width="0.18" font-family="Liberation Sans, sans-serif">0</text>
<line x1="182.83" y1="315.00" x2="182.83" y2="313.50" stroke="#8A8A78" stroke-width="0.6" />
<text transform="translate(202.48,321.60) scale(1.080,1)" x="0" y="0" font-size="5.3" textLength="8.07" lengthAdjust="spacing" fill="#6A6A6A" stroke="#6A6A6A" stroke-width="0.18" font-family="Liberation Sans, sans-serif">0.2</text>
<line x1="206.51" y1="315.00" x2="206.51" y2="313.50" stroke="#8A8A78" stroke-width="0.6" />
<text transform="translate(226.10,321.60) scale(1.080,1)" x="0" y="0" font-size="5.3" textLength="8.07" lengthAdjust="spacing" fill="#6A6A6A" stroke="#6A6A6A" stroke-width="0.18" font-family="Liberation Sans, sans-serif">0.4</text>
<line x1="230.19" y1="315.00" x2="230.19" y2="313.50" stroke="#8A8A78" stroke-width="0.6" />
<text transform="translate(249.81,321.60) scale(1.080,1)" x="0" y="0" font-size="5.3" textLength="8.07" lengthAdjust="spacing" fill="#6A6A6A" stroke="#6A6A6A" stroke-width="0.18" font-family="Liberation Sans, sans-serif">0.6</text>
<line x1="253.87" y1="315.00" x2="253.87" y2="313.50" stroke="#8A8A78" stroke-width="0.6" />
<text transform="translate(209.08,329.30) scale(1.100,1)" x="0" y="0" font-size="6.3" font-weight="bold" textLength="19.14" lengthAdjust="spacing" fill="#141414" stroke="#141414" stroke-width="0.3" font-family="Liberation Sans, sans-serif">Target</text>
<text transform="translate(194.40,220.80) scale(1.000,1)" x="0" y="0" font-size="6.6" font-weight="bold" textLength="49.74" lengthAdjust="spacing" fill="#141414" stroke="#141414" stroke-width="0.3" font-family="Liberation Sans, sans-serif">Validation: R=1</text>
<text transform="translate(149.80,308.59) rotate(-90)" x="0" y="0" font-size="6.3" font-weight="bold" textLength="78.78" lengthAdjust="spacing" fill="#141414" stroke="#141414" stroke-width="0.3" font-family="Liberation Sans, sans-serif">Output ~= 1*Target + 9e-07</text>
<rect x="165.90" y="223.40" width="38.40" height="18.10" fill="#FFFFFF" stroke="#8A8A78" stroke-width="0.8" />
<circle cx="178.40" cy="227.30" r="1.5" fill="none" stroke="#444" stroke-width="0.7"/>
<line x1="168.40" y1="232.90" x2="188.00" y2="232.90" stroke="#78C040" stroke-width="1.3" />
<line x1="168.40" y1="238.90" x2="188.00" y2="238.90" stroke="#C8DCDC" stroke-width="0.9" stroke-dasharray="1,0.8"/>
<text transform="translate(189.27,228.80) scale(1.100,1)" x="0" y="0" font-size="4.6" font-weight="bold" textLength="10.45" lengthAdjust="spacing" fill="#141414" stroke="#141414" stroke-width="0.3" font-family="Liberation Sans, sans-serif">Data</text>
<text transform="translate(189.27,234.30) scale(1.100,1)" x="0" y="0" font-size="4.6" font-weight="bold" textLength="6.53" lengthAdjust="spacing" fill="#141414" stroke="#141414" stroke-width="0.3" font-family="Liberation Sans, sans-serif">Fit</text>
<text transform="translate(189.50,240.00) scale(1.100,1)" x="0" y="0" font-size="4.6" font-weight="bold" textLength="11.41" lengthAdjust="spacing" fill="#141414" stroke="#141414" stroke-width="0.3" font-family="Liberation Sans, sans-serif">Y = T</text>
<rect x="26.60" y="339.60" width="106.00" height="90.90" fill="#FFFDCC" stroke="none" stroke-width="1" />
<polyline points="26.60,430.50 132.60,339.60" fill="none" stroke="#B8421A" stroke-width="1.1" stroke-linejoin="round" stroke-linecap="round" />
<circle cx="26.60" cy="430.50" r="1.9" fill="#504028" fill-opacity="0.55" stroke="#1A140C" stroke-width="0.8"/>
<circle cx="27.55" cy="429.69" r="1.9" fill="#504028" fill-opacity="0.55" stroke="#1A140C" stroke-width="0.8"/>
<circle cx="28.73" cy="428.68" r="1.9" fill="#504028" fill-opacity="0.55" stroke="#1A140C" stroke-width="0.8"/>
<circle cx="29.91" cy="427.66" r="1.9" fill="#504028" fill-opacity="0.55" stroke="#1A140C" stroke-width="0.8"/>
<circle cx="31.09" cy="426.65" r="1.9" fill="#504028" fill-opacity="0.55" stroke="#1A140C" stroke-width="0.8"/>
<circle cx="31.68" cy="426.14" r="1.9" fill="#504028" fill-opacity="0.55" stroke="#1A140C" stroke-width="0.8"/>
<circle cx="38.42" cy="420.37" r="1.9" fill="#504028" fill-opacity="0.55" stroke="#1A140C" stroke-width="0.8"/>
<circle cx="42.91" cy="416.52" r="1.9" fill="#504028" fill-opacity="0.55" stroke="#1A140C" stroke-width="0.8"/>
<circle cx="44.09" cy="415.50" r="1.9" fill="#504028" fill-opacity="0.55" stroke="#1A140C" stroke-width="0.8"/>
<circle cx="54.84" cy="406.28" r="1.9" fill="#504028" fill-opacity="0.55" stroke="#1A140C" stroke-width="0.8"/>
<circle cx="56.97" cy="404.46" r="1.9" fill="#504028" fill-opacity="0.55" stroke="#1A140C" stroke-width="0.8"/>
<circle cx="73.87" cy="389.96" r="1.9" fill="#504028" fill-opacity="0.55" stroke="#1A140C" stroke-width="0.8"/>
<circle cx="76.47" cy="387.74" r="1.9" fill="#504028" fill-opacity="0.55" stroke="#1A140C" stroke-width="0.8"/>
<circle cx="82.26" cy="382.77" r="1.9" fill="#504028" fill-opacity="0.55" stroke="#1A140C" stroke-width="0.8"/>
<circle cx="86.04" cy="379.53" r="1.9" fill="#504028" fill-opacity="0.55" stroke="#1A140C" stroke-width="0.8"/>
<circle cx="92.54" cy="373.95" r="1.9" fill="#504028" fill-opacity="0.55" stroke="#1A140C" stroke-width="0.8"/>
<circle cx="95.14" cy="371.72" r="1.9" fill="#504028" fill-opacity="0.55" stroke="#1A140C" stroke-width="0.8"/>
<circle cx="97.74" cy="369.49" r="1.9" fill="#504028" fill-opacity="0.55" stroke="#1A140C" stroke-width="0.8"/>
<circle cx="105.42" cy="362.91" r="1.9" fill="#504028" fill-opacity="0.55" stroke="#1A140C" stroke-width="0.8"/>
<circle cx="107.31" cy="361.29" r="1.9" fill="#504028" fill-opacity="0.55" stroke="#1A140C" stroke-width="0.8"/>
<circle cx="111.21" cy="357.94" r="1.9" fill="#504028" fill-opacity="0.55" stroke="#1A140C" stroke-width="0.8"/>
<circle cx="116.76" cy="353.18" r="1.9" fill="#504028" fill-opacity="0.55" stroke="#1A140C" stroke-width="0.8"/>
<circle cx="118.18" cy="351.96" r="1.9" fill="#504028" fill-opacity="0.55" stroke="#1A140C" stroke-width="0.8"/>
<circle cx="129.76" cy="342.03" r="1.9" fill="#504028" fill-opacity="0.55" stroke="#1A140C" stroke-width="0.8"/>
<circle cx="132.13" cy="340.01" r="1.9" fill="#504028" fill-opacity="0.55" stroke="#1A140C" stroke-width="0.8"/>
<rect x="26.60" y="339.60" width="106.00" height="90.90" fill="none" stroke="#8A8A78" stroke-width="0.9" />
<text transform="translate(13.08,427.94) scale(1.080,1)" x="0" y="0" font-size="5.3" textLength="10.18" lengthAdjust="spacing" fill="#6A6A6A" stroke="#6A6A6A" stroke-width="0.18" font-family="Liberation Sans, sans-serif">-0.1</text>
<line x1="26.60" y1="426.14" x2="28.10" y2="426.14" stroke="#8A8A78" stroke-width="0.6" />
<text transform="translate(20.82,417.81) scale(1.080,1)" x="0" y="0" font-size="5.3" fill="#6A6A6A" stroke="#6A6A6A" stroke-width="0.18" font-family="Liberation Sans, sans-serif">0</text>
<line x1="26.60" y1="416.01" x2="28.10" y2="416.01" stroke="#8A8A78" stroke-width="0.6" />
<text transform="translate(15.35,407.67) scale(1.080,1)" x="0" y="0" font-size="5.3" textLength="8.07" lengthAdjust="spacing" fill="#6A6A6A" stroke="#6A6A6A" stroke-width="0.18" font-family="Liberation Sans, sans-serif">0.1</text>
<line x1="26.60" y1="405.87" x2="28.10" y2="405.87" stroke="#8A8A78" stroke-width="0.6" />
<text transform="translate(15.37,397.54) scale(1.080,1)" x="0" y="0" font-size="5.3" textLength="8.07" lengthAdjust="spacing" fill="#6A6A6A" stroke="#6A6A6A" stroke-width="0.18" font-family="Liberation Sans, sans-serif">0.2</text>
<line x1="26.60" y1="395.74" x2="28.10" y2="395.74" stroke="#8A8A78" stroke-width="0.6" />
<text transform="translate(15.32,387.41) scale(1.080,1)" x="0" y="0" font-size="5.3" textLength="8.07" lengthAdjust="spacing" fill="#6A6A6A" stroke="#6A6A6A" stroke-width="0.18" font-family="Liberation Sans, sans-serif">0.3</text>
<line x1="26.60" y1="385.61" x2="28.10" y2="385.61" stroke="#8A8A78" stroke-width="0.6" />
<text transform="translate(15.26,377.27) scale(1.080,1)" x="0" y="0" font-size="5.3" textLength="8.07" lengthAdjust="spacing" fill="#6A6A6A" stroke="#6A6A6A" stroke-width="0.18" font-family="Liberation Sans, sans-serif">0.4</text>
<line x1="26.60" y1="375.47" x2="28.10" y2="375.47" stroke="#8A8A78" stroke-width="0.6" />
<text transform="translate(15.32,367.14) scale(1.080,1)" x="0" y="0" font-size="5.3" textLength="8.07" lengthAdjust="spacing" fill="#6A6A6A" stroke="#6A6A6A" stroke-width="0.18" font-family="Liberation Sans, sans-serif">0.5</text>
<line x1="26.60" y1="365.34" x2="28.10" y2="365.34" stroke="#8A8A78" stroke-width="0.6" />
<text transform="translate(15.32,357.01) scale(1.080,1)" x="0" y="0" font-size="5.3" textLength="8.07" lengthAdjust="spacing" fill="#6A6A6A" stroke="#6A6A6A" stroke-width="0.18" font-family="Liberation Sans, sans-serif">0.6</text>
<line x1="26.60" y1="355.21" x2="28.10" y2="355.21" stroke="#8A8A78" stroke-width="0.6" />
<text transform="translate(15.37,346.87) scale(1.080,1)" x="0" y="0" font-size="5.3" textLength="8.07" lengthAdjust="spacing" fill="#6A6A6A" stroke="#6A6A6A" stroke-width="0.18" font-family="Liberation Sans, sans-serif">0.7</text>
<line x1="26.60" y1="345.07" x2="28.10" y2="345.07" stroke="#8A8A78" stroke-width="0.6" />
<text transform="translate(42.20,437.10) scale(1.080,1)" x="0" y="0" font-size="5.3" fill="#6A6A6A" stroke="#6A6A6A" stroke-width="0.18" font-family="Liberation Sans, sans-serif">0</text>
<line x1="43.50" y1="430.50" x2="43.50" y2="429.00" stroke="#8A8A78" stroke-width="0.6" />
<text transform="translate(63.11,437.10) scale(1.080,1)" x="0" y="0" font-size="5.3" textLength="8.07" lengthAdjust="spacing" fill="#6A6A6A" stroke="#6A6A6A" stroke-width="0.18" font-family="Liberation Sans, sans-serif">0.2</text>
<line x1="67.13" y1="430.50" x2="67.13" y2="429.00" stroke="#8A8A78" stroke-width="0.6" />
<text transform="translate(86.68,437.10) scale(1.080,1)" x="0" y="0" font-size="5.3" textLength="8.07" lengthAdjust="spacing" fill="#6A6A6A" stroke="#6A6A6A" stroke-width="0.18" font-family="Liberation Sans, sans-serif">0.4</text>
<line x1="90.77" y1="430.50" x2="90.77" y2="429.00" stroke="#8A8A78" stroke-width="0.6" />
<text transform="translate(110.35,437.10) scale(1.080,1)" x="0" y="0" font-size="5.3" textLength="8.07" lengthAdjust="spacing" fill="#6A6A6A" stroke="#6A6A6A" stroke-width="0.18" font-family="Liberation Sans, sans-serif">0.6</text>
<line x1="114.40" y1="430.50" x2="114.40" y2="429.00" stroke="#8A8A78" stroke-width="0.6" />
<text transform="translate(69.68,444.80) scale(1.100,1)" x="0" y="0" font-size="6.3" font-weight="bold" textLength="19.14" lengthAdjust="spacing" fill="#141414" stroke="#141414" stroke-width="0.3" font-family="Liberation Sans, sans-serif">Target</text>
<text transform="translate(64.51,337.00) scale(1.000,1)" x="0" y="0" font-size="6.6" font-weight="bold" textLength="30.68" lengthAdjust="spacing" fill="#141414" stroke="#141414" stroke-width="0.3" font-family="Liberation Sans, sans-serif">Test: R=1</text>
<text transform="translate(10.50,428.09) rotate(-90)" x="0" y="0" font-size="6.3" font-weight="bold" textLength="86.06" lengthAdjust="spacing" fill="#141414" stroke="#141414" stroke-width="0.3" font-family="Liberation Sans, sans-serif">Output ~= 1*Target + -1.1e-06</text>
<rect x="26.60" y="339.60" width="38.40" height="18.10" fill="#FFFFFF" stroke="#8A8A78" stroke-width="0.8" />
<circle cx="39.10" cy="343.50" r="1.5" fill="none" stroke="#C05050" stroke-width="0.7"/>
<line x1="29.10" y1="349.10" x2="48.70" y2="349.10" stroke="#B83818" stroke-width="1.3" />
<line x1="29.10" y1="355.10" x2="48.70" y2="355.10" stroke="#C8DCDC" stroke-width="0.9" stroke-dasharray="1,0.8"/>
<text transform="translate(49.97,345.00) scale(1.100,1)" x="0" y="0" font-size="4.6" font-weight="bold" textLength="10.45" lengthAdjust="spacing" fill="#141414" stroke="#141414" stroke-width="0.3" font-family="Liberation Sans, sans-serif">Data</text>
<text transform="translate(49.97,350.50) scale(1.100,1)" x="0" y="0" font-size="4.6" font-weight="bold" textLength="6.53" lengthAdjust="spacing" fill="#141414" stroke="#141414" stroke-width="0.3" font-family="Liberation Sans, sans-serif">Fit</text>
<text transform="translate(50.20,356.20) scale(1.100,1)" x="0" y="0" font-size="4.6" font-weight="bold" textLength="11.41" lengthAdjust="spacing" fill="#141414" stroke="#141414" stroke-width="0.3" font-family="Liberation Sans, sans-serif">Y = T</text>
<rect x="165.20" y="339.80" width="107.10" height="91.40" fill="#FFFDCC" stroke="none" stroke-width="1" />
<polyline points="165.20,431.20 272.30,339.80" fill="none" stroke="#000" stroke-width="4.3" stroke-linejoin="round" stroke-linecap="round" />
<rect x="165.20" y="339.80" width="107.10" height="91.40" fill="none" stroke="#8A8A78" stroke-width="0.9" />
<text transform="translate(151.68,428.62) scale(1.080,1)" x="0" y="0" font-size="5.3" textLength="10.18" lengthAdjust="spacing" fill="#6A6A6A" stroke="#6A6A6A" stroke-width="0.18" font-family="Liberation Sans, sans-serif">-0.1</text>
<line x1="165.20" y1="426.82" x2="166.70" y2="426.82" stroke="#8A8A78" stroke-width="0.6" />
<text transform="translate(159.42,418.43) scale(1.080,1)" x="0" y="0" font-size="5.3" fill="#6A6A6A" stroke="#6A6A6A" stroke-width="0.18" font-family="Liberation Sans, sans-serif">0</text>
<line x1="165.20" y1="416.63" x2="166.70" y2="416.63" stroke="#8A8A78" stroke-width="0.6" />
<text transform="translate(153.95,408.24) scale(1.080,1)" x="0" y="0" font-size="5.3" textLength="8.07" lengthAdjust="spacing" fill="#6A6A6A" stroke="#6A6A6A" stroke-width="0.18" font-family="Liberation Sans, sans-serif">0.1</text>
<line x1="165.20" y1="406.44" x2="166.70" y2="406.44" stroke="#8A8A78" stroke-width="0.6" />
<text transform="translate(153.97,398.05) scale(1.080,1)" x="0" y="0" font-size="5.3" textLength="8.07" lengthAdjust="spacing" fill="#6A6A6A" stroke="#6A6A6A" stroke-width="0.18" font-family="Liberation Sans, sans-serif">0.2</text>
<line x1="165.20" y1="396.25" x2="166.70" y2="396.25" stroke="#8A8A78" stroke-width="0.6" />
<text transform="translate(153.92,387.86) scale(1.080,1)" x="0" y="0" font-size="5.3" textLength="8.07" lengthAdjust="spacing" fill="#6A6A6A" stroke="#6A6A6A" stroke-width="0.18" font-family="Liberation Sans, sans-serif">0.3</text>
<line x1="165.20" y1="386.06" x2="166.70" y2="386.06" stroke="#8A8A78" stroke-width="0.6" />
<text transform="translate(153.86,377.67) scale(1.080,1)" x="0" y="0" font-size="5.3" textLength="8.07" lengthAdjust="spacing" fill="#6A6A6A" stroke="#6A6A6A" stroke-width="0.18" font-family="Liberation Sans, sans-serif">0.4</text>
<line x1="165.20" y1="375.87" x2="166.70" y2="375.87" stroke="#8A8A78" stroke-width="0.6" />
<text transform="translate(153.92,367.48) scale(1.080,1)" x="0" y="0" font-size="5.3" textLength="8.07" lengthAdjust="spacing" fill="#6A6A6A" stroke="#6A6A6A" stroke-width="0.18" font-family="Liberation Sans, sans-serif">0.5</text>
<line x1="165.20" y1="365.68" x2="166.70" y2="365.68" stroke="#8A8A78" stroke-width="0.6" />
<text transform="translate(153.92,357.29) scale(1.080,1)" x="0" y="0" font-size="5.3" textLength="8.07" lengthAdjust="spacing" fill="#6A6A6A" stroke="#6A6A6A" stroke-width="0.18" font-family="Liberation Sans, sans-serif">0.6</text>
<line x1="165.20" y1="355.49" x2="166.70" y2="355.49" stroke="#8A8A78" stroke-width="0.6" />
<text transform="translate(153.97,347.10) scale(1.080,1)" x="0" y="0" font-size="5.3" textLength="8.07" lengthAdjust="spacing" fill="#6A6A6A" stroke="#6A6A6A" stroke-width="0.18" font-family="Liberation Sans, sans-serif">0.7</text>
<line x1="165.20" y1="345.30" x2="166.70" y2="345.30" stroke="#8A8A78" stroke-width="0.6" />
<text transform="translate(180.97,437.80) scale(1.080,1)" x="0" y="0" font-size="5.3" fill="#6A6A6A" stroke="#6A6A6A" stroke-width="0.18" font-family="Liberation Sans, sans-serif">0</text>
<line x1="182.27" y1="431.20" x2="182.27" y2="429.70" stroke="#8A8A78" stroke-width="0.6" />
<text transform="translate(202.13,437.80) scale(1.080,1)" x="0" y="0" font-size="5.3" textLength="8.07" lengthAdjust="spacing" fill="#6A6A6A" stroke="#6A6A6A" stroke-width="0.18" font-family="Liberation Sans, sans-serif">0.2</text>
<line x1="206.15" y1="431.20" x2="206.15" y2="429.70" stroke="#8A8A78" stroke-width="0.6" />
<text transform="translate(225.95,437.80) scale(1.080,1)" x="0" y="0" font-size="5.3" textLength="8.07" lengthAdjust="spacing" fill="#6A6A6A" stroke="#6A6A6A" stroke-width="0.18" font-family="Liberation Sans, sans-serif">0.4</text>
<line x1="230.03" y1="431.20" x2="230.03" y2="429.70" stroke="#8A8A78" stroke-width="0.6" />
<text transform="translate(249.86,437.80) scale(1.080,1)" x="0" y="0" font-size="5.3" textLength="8.07" lengthAdjust="spacing" fill="#6A6A6A" stroke="#6A6A6A" stroke-width="0.18" font-family="Liberation Sans, sans-serif">0.6</text>
<line x1="253.91" y1="431.20" x2="253.91" y2="429.70" stroke="#8A8A78" stroke-width="0.6" />
<text transform="translate(208.83,445.50) scale(1.100,1)" x="0" y="0" font-size="6.3" font-weight="bold" textLength="19.14" lengthAdjust="spacing" fill="#141414" stroke="#141414" stroke-width="0.3" font-family="Liberation Sans, sans-serif">Target</text>
<text transform="translate(206.01,337.20) scale(1.000,1)" x="0" y="0" font-size="6.6" font-weight="bold" textLength="25.88" lengthAdjust="spacing" fill="#141414" stroke="#141414" stroke-width="0.3" font-family="Liberation Sans, sans-serif">All: R=1</text>
<text transform="translate(149.10,428.56) rotate(-90)" x="0" y="0" font-size="6.3" font-weight="bold" textLength="86.06" lengthAdjust="spacing" fill="#141414" stroke="#141414" stroke-width="0.3" font-family="Liberation Sans, sans-serif">Output ~= 1*Target + -1.4e-08</text>
<rect x="165.20" y="339.80" width="38.40" height="18.10" fill="#FFFFFF" stroke="#8A8A78" stroke-width="0.8" />
<circle cx="177.70" cy="343.70" r="1.5" fill="none" stroke="#444" stroke-width="0.7"/>
<line x1="167.70" y1="349.30" x2="187.30" y2="349.30" stroke="#404040" stroke-width="1.3" />
<line x1="167.70" y1="355.30" x2="187.30" y2="355.30" stroke="#C8DCDC" stroke-width="0.9" stroke-dasharray="1,0.8"/>
<text transform="translate(188.57,345.20) scale(1.100,1)" x="0" y="0" font-size="4.6" font-weight="bold" textLength="10.45" lengthAdjust="spacing" fill="#141414" stroke="#141414" stroke-width="0.3" font-family="Liberation Sans, sans-serif">Data</text>
<text transform="translate(188.57,350.70) scale(1.100,1)" x="0" y="0" font-size="4.6" font-weight="bold" textLength="6.53" lengthAdjust="spacing" fill="#141414" stroke="#141414" stroke-width="0.3" font-family="Liberation Sans, sans-serif">Fit</text>
<text transform="translate(188.80,356.40) scale(1.100,1)" x="0" y="0" font-size="4.6" font-weight="bold" textLength="11.41" lengthAdjust="spacing" fill="#141414" stroke="#141414" stroke-width="0.3" font-family="Liberation Sans, sans-serif">Y = T</text>
<path d="M207.5,225.5 Q209.5,231 212,234" fill="none" stroke="#F080B0" stroke-width="0.8" opacity="0.8"/>
<circle cx="271.2" cy="223.8" r="2.1" fill="#1A1A10"/>
<text transform="translate(132.22,459.30) scale(1.000,1)" x="0" y="0" font-size="10.6" font-weight="bold" textLength="12.75" lengthAdjust="spacing" fill="#141414" font-family="Liberation Serif, serif">(c)</text>
<rect x="310.50" y="231.80" width="232.00" height="184.30" fill="#FFFDCC" stroke="none" stroke-width="1" />
<rect x="313.50" y="346.40" width="5.20" height="18.18" fill="#FBD4A8" stroke="none" stroke-width="1" opacity="0.6"/>
<rect x="319.02" y="346.40" width="5.20" height="27.01" fill="#FBD4A8" stroke="none" stroke-width="1" opacity="0.6"/>
<rect x="324.54" y="346.40" width="5.20" height="35.84" fill="#FBD4A8" stroke="none" stroke-width="1" opacity="0.6"/>
<rect x="330.06" y="346.40" width="5.20" height="43.57" fill="#FBD4A8" stroke="none" stroke-width="1" opacity="0.6"/>
<rect x="335.58" y="346.40" width="5.20" height="49.64" fill="#FBD4A8" stroke="none" stroke-width="1" opacity="0.6"/>
<rect x="341.10" y="346.40" width="5.20" height="54.34" fill="#FBD4A8" stroke="none" stroke-width="1" opacity="0.6"/>
<rect x="346.62" y="346.40" width="5.20" height="55.99" fill="#FBD4A8" stroke="none" stroke-width="1" opacity="0.6"/>
<rect x="352.14" y="346.40" width="5.20" height="55.16" fill="#FBD4A8" stroke="none" stroke-width="1" opacity="0.6"/>
<rect x="357.66" y="346.40" width="5.20" height="50.75" fill="#FBD4A8" stroke="none" stroke-width="1" opacity="0.6"/>
<rect x="363.18" y="346.40" width="5.20" height="43.57" fill="#FBD4A8" stroke="none" stroke-width="1" opacity="0.6"/>
<rect x="368.70" y="346.40" width="5.20" height="33.36" fill="#FBD4A8" stroke="none" stroke-width="1" opacity="0.6"/>
<rect x="374.22" y="346.40" width="5.20" height="20.66" fill="#FBD4A8" stroke="none" stroke-width="1" opacity="0.6"/>
<rect x="379.74" y="346.40" width="5.20" height="5.48" fill="#FBD4A8" stroke="none" stroke-width="1" opacity="0.6"/>
<rect x="385.26" y="334.26" width="5.20" height="15.14" fill="#FBD4A8" stroke="none" stroke-width="1" opacity="0.6"/>
<rect x="390.78" y="317.70" width="5.20" height="31.70" fill="#FBD4A8" stroke="none" stroke-width="1" opacity="0.6"/>
<rect x="396.30" y="301.69" width="5.20" height="47.71" fill="#FBD4A8" stroke="none" stroke-width="1" opacity="0.6"/>
<rect x="401.82" y="285.96" width="5.20" height="63.44" fill="#FBD4A8" stroke="none" stroke-width="1" opacity="0.6"/>
<rect x="407.34" y="272.43" width="5.20" height="76.97" fill="#FBD4A8" stroke="none" stroke-width="1" opacity="0.6"/>
<rect x="412.86" y="260.84" width="5.20" height="88.56" fill="#FBD4A8" stroke="none" stroke-width="1" opacity="0.6"/>
<rect x="418.38" y="252.28" width="5.20" height="97.12" fill="#FBD4A8" stroke="none" stroke-width="1" opacity="0.6"/>
<rect x="423.90" y="246.49" width="5.20" height="102.91" fill="#FBD4A8" stroke="none" stroke-width="1" opacity="0.6"/>
<rect x="429.42" y="252.28" width="5.20" height="97.12" fill="#FBD4A8" stroke="none" stroke-width="1" opacity="0.6"/>
<rect x="434.94" y="260.84" width="5.20" height="88.56" fill="#FBD4A8" stroke="none" stroke-width="1" opacity="0.6"/>
<rect x="440.46" y="272.43" width="5.20" height="76.97" fill="#FBD4A8" stroke="none" stroke-width="1" opacity="0.6"/>
<rect x="445.98" y="285.96" width="5.20" height="63.44" fill="#FBD4A8" stroke="none" stroke-width="1" opacity="0.6"/>
<rect x="451.50" y="301.69" width="5.20" height="47.71" fill="#FBD4A8" stroke="none" stroke-width="1" opacity="0.6"/>
<rect x="457.02" y="317.70" width="5.20" height="31.70" fill="#FBD4A8" stroke="none" stroke-width="1" opacity="0.6"/>
<rect x="462.54" y="334.26" width="5.20" height="15.14" fill="#FBD4A8" stroke="none" stroke-width="1" opacity="0.6"/>
<rect x="468.06" y="346.40" width="5.20" height="5.48" fill="#FBD4A8" stroke="none" stroke-width="1" opacity="0.6"/>
<rect x="473.58" y="346.40" width="5.20" height="20.66" fill="#FBD4A8" stroke="none" stroke-width="1" opacity="0.6"/>
<rect x="479.10" y="346.40" width="5.20" height="33.36" fill="#FBD4A8" stroke="none" stroke-width="1" opacity="0.6"/>
<rect x="484.62" y="346.40" width="5.20" height="43.57" fill="#FBD4A8" stroke="none" stroke-width="1" opacity="0.6"/>
<rect x="490.14" y="346.40" width="5.20" height="50.75" fill="#FBD4A8" stroke="none" stroke-width="1" opacity="0.6"/>
<rect x="495.66" y="346.40" width="5.20" height="55.16" fill="#FBD4A8" stroke="none" stroke-width="1" opacity="0.6"/>
<rect x="501.18" y="346.40" width="5.20" height="55.99" fill="#FBD4A8" stroke="none" stroke-width="1" opacity="0.6"/>
<rect x="506.70" y="346.40" width="5.20" height="54.34" fill="#FBD4A8" stroke="none" stroke-width="1" opacity="0.6"/>
<rect x="512.22" y="346.40" width="5.20" height="49.64" fill="#FBD4A8" stroke="none" stroke-width="1" opacity="0.6"/>
<rect x="517.74" y="346.40" width="5.20" height="43.57" fill="#FBD4A8" stroke="none" stroke-width="1" opacity="0.6"/>
<rect x="523.26" y="346.40" width="5.20" height="35.84" fill="#FBD4A8" stroke="none" stroke-width="1" opacity="0.6"/>
<rect x="528.78" y="346.40" width="5.20" height="27.01" fill="#FBD4A8" stroke="none" stroke-width="1" opacity="0.6"/>
<rect x="534.30" y="346.40" width="5.20" height="18.18" fill="#FBD4A8" stroke="none" stroke-width="1" opacity="0.6"/>
<rect x="315.05" y="347.90" width="2.10" height="15.18" fill="#9C621C" stroke="none" stroke-width="1" />
<rect x="320.57" y="347.90" width="2.10" height="24.01" fill="#9C621C" stroke="none" stroke-width="1" />
<rect x="326.09" y="347.90" width="2.10" height="32.84" fill="#9C621C" stroke="none" stroke-width="1" />
<rect x="331.61" y="347.90" width="2.10" height="40.57" fill="#9C621C" stroke="none" stroke-width="1" />
<rect x="337.13" y="347.90" width="2.10" height="46.64" fill="#9C621C" stroke="none" stroke-width="1" />
<rect x="342.65" y="347.90" width="2.10" height="51.34" fill="#9C621C" stroke="none" stroke-width="1" />
<rect x="348.17" y="347.90" width="2.10" height="52.99" fill="#9C621C" stroke="none" stroke-width="1" />
<rect x="353.69" y="347.90" width="2.10" height="52.16" fill="#9C621C" stroke="none" stroke-width="1" />
<rect x="359.21" y="347.90" width="2.10" height="47.75" fill="#9C621C" stroke="none" stroke-width="1" />
<rect x="364.73" y="347.90" width="2.10" height="40.57" fill="#9C621C" stroke="none" stroke-width="1" />
<rect x="370.25" y="347.90" width="2.10" height="30.36" fill="#9C621C" stroke="none" stroke-width="1" />
<rect x="375.77" y="347.90" width="2.10" height="17.66" fill="#9C621C" stroke="none" stroke-width="1" />
<rect x="381.29" y="347.90" width="2.10" height="2.48" fill="#9C621C" stroke="none" stroke-width="1" />
<rect x="386.81" y="335.76" width="2.10" height="12.14" fill="#9C621C" stroke="none" stroke-width="1" />
<rect x="392.33" y="319.20" width="2.10" height="28.70" fill="#9C621C" stroke="none" stroke-width="1" />
<rect x="397.85" y="303.19" width="2.10" height="44.71" fill="#9C621C" stroke="none" stroke-width="1" />
<rect x="403.37" y="287.46" width="2.10" height="60.44" fill="#9C621C" stroke="none" stroke-width="1" />
<rect x="408.89" y="273.93" width="2.10" height="73.97" fill="#9C621C" stroke="none" stroke-width="1" />
<rect x="414.41" y="262.34" width="2.10" height="85.56" fill="#9C621C" stroke="none" stroke-width="1" />
<rect x="419.93" y="253.78" width="2.10" height="94.12" fill="#9C621C" stroke="none" stroke-width="1" />
<rect x="425.45" y="247.99" width="2.10" height="99.91" fill="#9C621C" stroke="none" stroke-width="1" />
<rect x="430.97" y="253.78" width="2.10" height="94.12" fill="#9C621C" stroke="none" stroke-width="1" />
<rect x="436.49" y="262.34" width="2.10" height="85.56" fill="#9C621C" stroke="none" stroke-width="1" />
<rect x="442.01" y="273.93" width="2.10" height="73.97" fill="#9C621C" stroke="none" stroke-width="1" />
<rect x="447.53" y="287.46" width="2.10" height="60.44" fill="#9C621C" stroke="none" stroke-width="1" />
<rect x="453.05" y="303.19" width="2.10" height="44.71" fill="#9C621C" stroke="none" stroke-width="1" />
<rect x="458.57" y="319.20" width="2.10" height="28.70" fill="#9C621C" stroke="none" stroke-width="1" />
<rect x="464.09" y="335.76" width="2.10" height="12.14" fill="#9C621C" stroke="none" stroke-width="1" />
<rect x="469.61" y="347.90" width="2.10" height="2.48" fill="#9C621C" stroke="none" stroke-width="1" />
<rect x="475.13" y="347.90" width="2.10" height="17.66" fill="#9C621C" stroke="none" stroke-width="1" />
<rect x="480.65" y="347.90" width="2.10" height="30.36" fill="#9C621C" stroke="none" stroke-width="1" />
<rect x="486.17" y="347.90" width="2.10" height="40.57" fill="#9C621C" stroke="none" stroke-width="1" />
<rect x="491.69" y="347.90" width="2.10" height="47.75" fill="#9C621C" stroke="none" stroke-width="1" />
<rect x="497.21" y="347.90" width="2.10" height="52.16" fill="#9C621C" stroke="none" stroke-width="1" />
<rect x="502.73" y="347.90" width="2.10" height="52.99" fill="#9C621C" stroke="none" stroke-width="1" />
<rect x="508.25" y="347.90" width="2.10" height="51.34" fill="#9C621C" stroke="none" stroke-width="1" />
<rect x="513.77" y="347.90" width="2.10" height="46.64" fill="#9C621C" stroke="none" stroke-width="1" />
<rect x="519.29" y="347.90" width="2.10" height="40.57" fill="#9C621C" stroke="none" stroke-width="1" />
<rect x="524.81" y="347.90" width="2.10" height="32.84" fill="#9C621C" stroke="none" stroke-width="1" />
<rect x="530.33" y="347.90" width="2.10" height="24.01" fill="#9C621C" stroke="none" stroke-width="1" />
<rect x="535.85" y="347.90" width="2.10" height="15.18" fill="#9C621C" stroke="none" stroke-width="1" />
<line x1="310.50" y1="347.90" x2="542.50" y2="347.90" stroke="#6A3A22" stroke-width="1.1" />
<line x1="310.50" y1="338.70" x2="542.50" y2="338.70" stroke="#D08868" stroke-width="0.8" stroke-dasharray="1,1.6"/>
<line x1="310.50" y1="356.00" x2="542.50" y2="356.00" stroke="#D08868" stroke-width="0.8" stroke-dasharray="1,1.6"/>
<rect x="310.50" y="231.80" width="232.00" height="184.30" fill="none" stroke="#8A8A78" stroke-width="1" />
<text transform="translate(302.63,240.30) scale(1.080,1)" x="0" y="0" font-size="7.7" fill="#4A4A4A" stroke="#4A4A4A" stroke-width="0.18" font-family="Liberation Sans, sans-serif">4</text>
<line x1="310.50" y1="237.50" x2="312.50" y2="237.50" stroke="#8A8A78" stroke-width="0.8" />
<line x1="542.50" y1="237.50" x2="540.50" y2="237.50" stroke="#8A8A78" stroke-width="0.8" />
<text transform="translate(302.72,267.90) scale(1.080,1)" x="0" y="0" font-size="7.7" fill="#4A4A4A" stroke="#4A4A4A" stroke-width="0.18" font-family="Liberation Sans, sans-serif">3</text>
<line x1="310.50" y1="265.10" x2="312.50" y2="265.10" stroke="#8A8A78" stroke-width="0.8" />
<line x1="542.50" y1="265.10" x2="540.50" y2="265.10" stroke="#8A8A78" stroke-width="0.8" />
<text transform="translate(302.80,295.50) scale(1.080,1)" x="0" y="0" font-size="7.7" fill="#4A4A4A" stroke="#4A4A4A" stroke-width="0.18" font-family="Liberation Sans, sans-serif">2</text>
<line x1="310.50" y1="292.70" x2="312.50" y2="292.70" stroke="#8A8A78" stroke-width="0.8" />
<line x1="542.50" y1="292.70" x2="540.50" y2="292.70" stroke="#8A8A78" stroke-width="0.8" />
<text transform="translate(302.76,323.10) scale(1.080,1)" x="0" y="0" font-size="7.7" fill="#4A4A4A" stroke="#4A4A4A" stroke-width="0.18" font-family="Liberation Sans, sans-serif">1</text>
<line x1="310.50" y1="320.30" x2="312.50" y2="320.30" stroke="#8A8A78" stroke-width="0.8" />
<line x1="542.50" y1="320.30" x2="540.50" y2="320.30" stroke="#8A8A78" stroke-width="0.8" />
<text transform="translate(302.68,350.70) scale(1.080,1)" x="0" y="0" font-size="7.7" fill="#4A4A4A" stroke="#4A4A4A" stroke-width="0.18" font-family="Liberation Sans, sans-serif">0</text>
<line x1="310.50" y1="347.90" x2="312.50" y2="347.90" stroke="#8A8A78" stroke-width="0.8" />
<line x1="542.50" y1="347.90" x2="540.50" y2="347.90" stroke="#8A8A78" stroke-width="0.8" />
<text transform="translate(299.70,378.30) scale(1.080,1)" x="0" y="0" font-size="7.7" textLength="7.10" lengthAdjust="spacing" fill="#4A4A4A" stroke="#4A4A4A" stroke-width="0.18" font-family="Liberation Sans, sans-serif">-1</text>
<line x1="310.50" y1="375.50" x2="312.50" y2="375.50" stroke="#8A8A78" stroke-width="0.8" />
<line x1="542.50" y1="375.50" x2="540.50" y2="375.50" stroke="#8A8A78" stroke-width="0.8" />
<text transform="translate(299.74,405.90) scale(1.080,1)" x="0" y="0" font-size="7.7" textLength="7.10" lengthAdjust="spacing" fill="#4A4A4A" stroke="#4A4A4A" stroke-width="0.18" font-family="Liberation Sans, sans-serif">-2</text>
<line x1="310.50" y1="403.10" x2="312.50" y2="403.10" stroke="#8A8A78" stroke-width="0.8" />
<line x1="542.50" y1="403.10" x2="540.50" y2="403.10" stroke="#8A8A78" stroke-width="0.8" />
<text transform="translate(309.43,427.70) scale(1.080,1)" x="0" y="0" font-size="7.7" textLength="11.73" lengthAdjust="spacing" fill="#4A4A4A" stroke="#4A4A4A" stroke-width="0.18" font-family="Liberation Sans, sans-serif">-20</text>
<line x1="316.10" y1="416.10" x2="316.10" y2="414.10" stroke="#8A8A78" stroke-width="0.8" />
<line x1="316.10" y1="231.80" x2="316.10" y2="233.80" stroke="#8A8A78" stroke-width="0.8" />
<text transform="translate(337.05,427.70) scale(1.080,1)" x="0" y="0" font-size="7.7" textLength="11.73" lengthAdjust="spacing" fill="#4A4A4A" stroke="#4A4A4A" stroke-width="0.18" font-family="Liberation Sans, sans-serif">-15</text>
<line x1="343.70" y1="416.10" x2="343.70" y2="414.10" stroke="#8A8A78" stroke-width="0.8" />
<line x1="343.70" y1="231.80" x2="343.70" y2="233.80" stroke="#8A8A78" stroke-width="0.8" />
<text transform="translate(364.63,427.70) scale(1.080,1)" x="0" y="0" font-size="7.7" textLength="11.73" lengthAdjust="spacing" fill="#4A4A4A" stroke="#4A4A4A" stroke-width="0.18" font-family="Liberation Sans, sans-serif">-10</text>
<line x1="371.30" y1="416.10" x2="371.30" y2="414.10" stroke="#8A8A78" stroke-width="0.8" />
<line x1="371.30" y1="231.80" x2="371.30" y2="233.80" stroke="#8A8A78" stroke-width="0.8" />
<text transform="translate(394.72,427.70) scale(1.080,1)" x="0" y="0" font-size="7.7" textLength="7.15" lengthAdjust="spacing" fill="#4A4A4A" stroke="#4A4A4A" stroke-width="0.18" font-family="Liberation Sans, sans-serif">-5</text>
<line x1="398.90" y1="416.10" x2="398.90" y2="414.10" stroke="#8A8A78" stroke-width="0.8" />
<line x1="398.90" y1="231.80" x2="398.90" y2="233.80" stroke="#8A8A78" stroke-width="0.8" />
<text transform="translate(423.87,427.70) scale(1.080,1)" x="0" y="0" font-size="7.7" fill="#4A4A4A" stroke="#4A4A4A" stroke-width="0.18" font-family="Liberation Sans, sans-serif">0</text>
<line x1="426.50" y1="416.10" x2="426.50" y2="414.10" stroke="#8A8A78" stroke-width="0.8" />
<line x1="426.50" y1="231.80" x2="426.50" y2="233.80" stroke="#8A8A78" stroke-width="0.8" />
<text transform="translate(451.49,427.70) scale(1.080,1)" x="0" y="0" font-size="7.7" fill="#4A4A4A" stroke="#4A4A4A" stroke-width="0.18" font-family="Liberation Sans, sans-serif">5</text>
<line x1="454.10" y1="416.10" x2="454.10" y2="414.10" stroke="#8A8A78" stroke-width="0.8" />
<line x1="454.10" y1="231.80" x2="454.10" y2="233.80" stroke="#8A8A78" stroke-width="0.8" />
<text transform="translate(476.46,427.70) scale(1.080,1)" x="0" y="0" font-size="7.7" textLength="8.86" lengthAdjust="spacing" fill="#4A4A4A" stroke="#4A4A4A" stroke-width="0.18" font-family="Liberation Sans, sans-serif">10</text>
<line x1="481.70" y1="416.10" x2="481.70" y2="414.10" stroke="#8A8A78" stroke-width="0.8" />
<line x1="481.70" y1="231.80" x2="481.70" y2="233.80" stroke="#8A8A78" stroke-width="0.8" />
<text transform="translate(504.08,427.70) scale(1.080,1)" x="0" y="0" font-size="7.7" textLength="8.86" lengthAdjust="spacing" fill="#4A4A4A" stroke="#4A4A4A" stroke-width="0.18" font-family="Liberation Sans, sans-serif">15</text>
<line x1="509.30" y1="416.10" x2="509.30" y2="414.10" stroke="#8A8A78" stroke-width="0.8" />
<line x1="509.30" y1="231.80" x2="509.30" y2="233.80" stroke="#8A8A78" stroke-width="0.8" />
<text transform="translate(531.76,427.70) scale(1.080,1)" x="0" y="0" font-size="7.7" textLength="8.86" lengthAdjust="spacing" fill="#4A4A4A" stroke="#4A4A4A" stroke-width="0.18" font-family="Liberation Sans, sans-serif">20</text>
<line x1="536.90" y1="416.10" x2="536.90" y2="414.10" stroke="#8A8A78" stroke-width="0.8" />
<line x1="536.90" y1="231.80" x2="536.90" y2="233.80" stroke="#8A8A78" stroke-width="0.8" />
<text transform="translate(311.21,230.40) scale(1.100,1)" x="0" y="0" font-size="7.6" fill="#4A4A4A" stroke="#4A4A4A" stroke-width="0.18" font-family="Liberation Sans, sans-serif">×</text>
<text transform="translate(317.39,229.60) scale(1.100,1)" x="0" y="0" font-size="7.4" textLength="8.29" lengthAdjust="spacing" fill="#4A4A4A" stroke="#4A4A4A" stroke-width="0.18" font-family="Liberation Sans, sans-serif">10</text>
<text transform="translate(327.58,225.60) scale(1.100,1)" x="0" y="0" font-size="6.4" textLength="9.97" lengthAdjust="spacing" fill="#4A4A4A" stroke="#4A4A4A" stroke-width="0.18" font-family="Liberation Sans, sans-serif">-10</text>
<text transform="translate(372.70,227.20) scale(1.100,1)" x="0" y="0" font-size="7.4" font-weight="bold" textLength="95.91" lengthAdjust="spacing" fill="#141414" stroke="#141414" stroke-width="0.3" font-family="Liberation Sans, sans-serif">Autocorrelation of Error 1</text>
<text transform="translate(295.30,344.39) rotate(-90)" x="0" y="0" font-size="7.3" font-weight="bold" textLength="43.62" lengthAdjust="spacing" fill="#141414" stroke="#141414" stroke-width="0.3" font-family="Liberation Sans, sans-serif">Correlation</text>
<text transform="translate(416.19,441.30) scale(1.052,1)" x="0" y="0" font-size="10.4" font-weight="bold" textLength="18.49" lengthAdjust="spacing" fill="#141414" stroke="#141414" stroke-width="0.3" font-family="Liberation Sans, sans-serif">Lag</text>
<text transform="translate(409.32,458.80) scale(1.000,1)" x="0" y="0" font-size="10.6" font-weight="bold" textLength="14.12" lengthAdjust="spacing" fill="#141414" font-family="Liberation Serif, serif">(d)</text>
<rect x="438.40" y="231.80" width="103.40" height="32.20" fill="#FFFFFF" stroke="#8A8A78" stroke-width="0.9" />
<defs><linearGradient id="pg" x1="0" y1="0" x2="0" y2="1"><stop offset="0" stop-color="#D07428"/><stop offset="1" stop-color="#A86418"/></linearGradient></defs>
<rect x="440.00" y="232.30" width="33.00" height="14.00" fill="#FFE6F2" stroke="none" stroke-width="1" opacity="0.8"/>
<rect x="444.10" y="235.20" width="26.60" height="5.40" fill="#C8641E" stroke="#7E6414" stroke-width="0.9" />
<line x1="443.40" y1="248.30" x2="471.20" y2="248.30" stroke="#553040" stroke-width="1" />
<line x1="443.40" y1="257.90" x2="471.20" y2="257.90" stroke="#D0A898" stroke-width="0.8" stroke-dasharray="1,1.4"/>
<text transform="translate(473.28,240.40) scale(1.100,1)" x="0" y="0" font-size="7.3" font-weight="bold" textLength="43.13" lengthAdjust="spacing" fill="#141414" stroke="#141414" stroke-width="0.3" font-family="Liberation Sans, sans-serif">Correlations</text>
<text transform="translate(473.36,250.60) scale(1.100,1)" x="0" y="0" font-size="7.3" font-weight="bold" textLength="57.38" lengthAdjust="spacing" fill="#141414" stroke="#141414" stroke-width="0.3" font-family="Liberation Sans, sans-serif">Zero Correlation</text>
<text transform="translate(473.28,260.60) scale(1.100,1)" x="0" y="0" font-size="7.3" font-weight="bold" textLength="59.83" lengthAdjust="spacing" fill="#141414" stroke="#141414" stroke-width="0.3" font-family="Liberation Sans, sans-serif">Confidence Limit</text>
</g>
</svg>
</body></html>
